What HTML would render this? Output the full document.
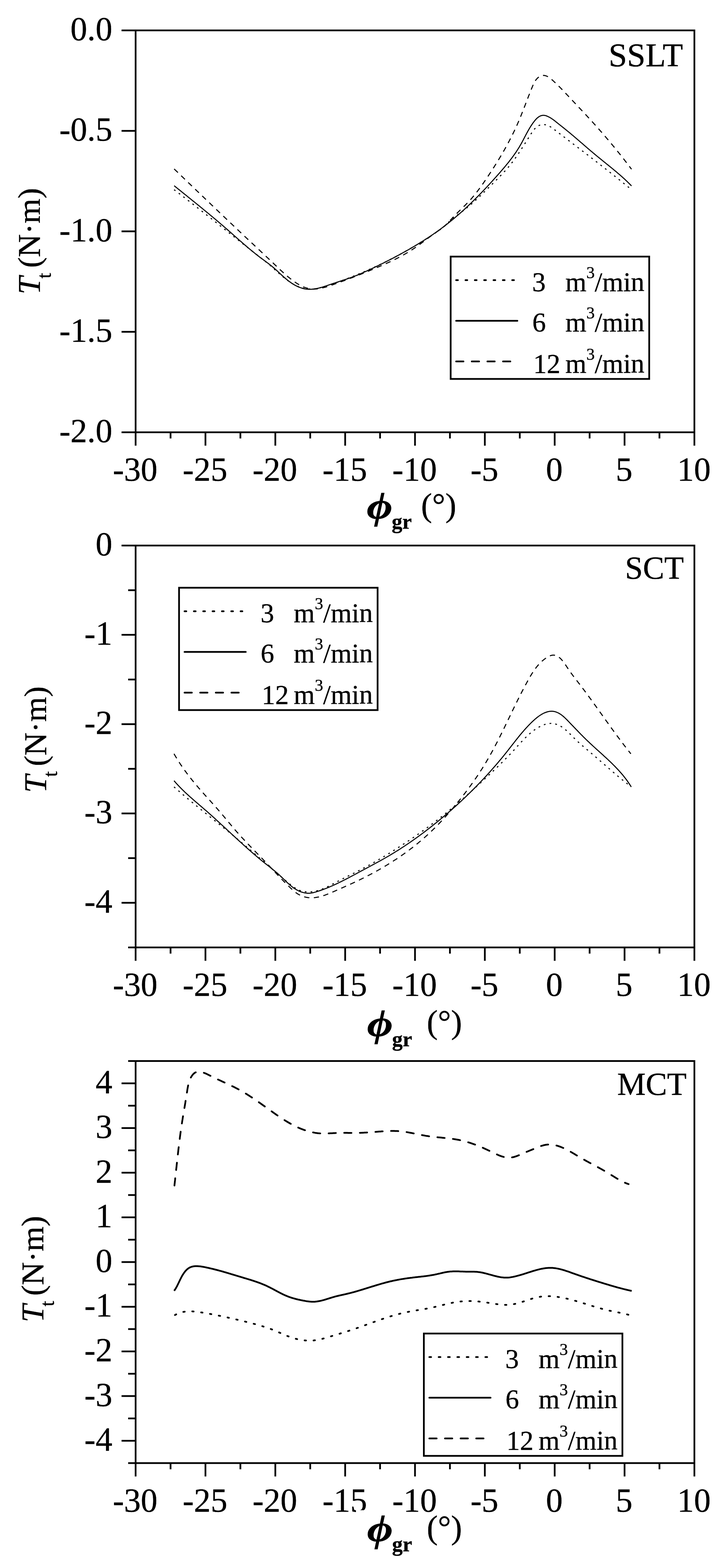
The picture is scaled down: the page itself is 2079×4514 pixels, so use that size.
<!DOCTYPE html><html><head><meta charset="utf-8"><title>Tt vs phi_gr</title>
<style>html,body{margin:0;padding:0;background:#fff;}svg{display:block;}text{font-family:'Liberation Serif', 'Times New Roman', serif;fill:#000;stroke:#000;stroke-width:0.6px;}</style></head><body>
<svg width="2079" height="4514" viewBox="0 0 2079 4514">
<rect x="0" y="0" width="2079" height="4514" fill="#fff"/>
<g><rect x="390.5" y="87.5" width="1609.0" height="1157.0" fill="none" stroke="#000" stroke-width="5"/><line x1="350.0" y1="87.5" x2="390.5" y2="87.5" stroke="#000" stroke-width="5"/><text x="323.4" y="116.0" font-size="96.5" text-anchor="end">0.0</text><line x1="350.0" y1="376.8" x2="390.5" y2="376.8" stroke="#000" stroke-width="5"/><text x="323.4" y="405.2" font-size="96.5" text-anchor="end">-0.5</text><line x1="350.0" y1="666.0" x2="390.5" y2="666.0" stroke="#000" stroke-width="5"/><text x="323.4" y="694.5" font-size="96.5" text-anchor="end">-1.0</text><line x1="350.0" y1="955.2" x2="390.5" y2="955.2" stroke="#000" stroke-width="5"/><text x="323.4" y="983.8" font-size="96.5" text-anchor="end">-1.5</text><line x1="350.0" y1="1244.5" x2="390.5" y2="1244.5" stroke="#000" stroke-width="5"/><text x="323.4" y="1273.0" font-size="96.5" text-anchor="end">-2.0</text><line x1="390.5" y1="1244.5" x2="390.5" y2="1283.0" stroke="#000" stroke-width="5"/><text x="389.3" y="1384.0" font-size="96.5" text-anchor="middle">-30</text><line x1="491.1" y1="1244.5" x2="491.1" y2="1262.3" stroke="#000" stroke-width="5"/><line x1="591.6" y1="1244.5" x2="591.6" y2="1283.0" stroke="#000" stroke-width="5"/><text x="590.4" y="1384.0" font-size="96.5" text-anchor="middle">-25</text><line x1="692.2" y1="1244.5" x2="692.2" y2="1262.3" stroke="#000" stroke-width="5"/><line x1="792.8" y1="1244.5" x2="792.8" y2="1283.0" stroke="#000" stroke-width="5"/><text x="791.5" y="1384.0" font-size="96.5" text-anchor="middle">-20</text><line x1="893.3" y1="1244.5" x2="893.3" y2="1262.3" stroke="#000" stroke-width="5"/><line x1="993.9" y1="1244.5" x2="993.9" y2="1283.0" stroke="#000" stroke-width="5"/><text x="992.7" y="1384.0" font-size="96.5" text-anchor="middle">-15</text><line x1="1094.4" y1="1244.5" x2="1094.4" y2="1262.3" stroke="#000" stroke-width="5"/><line x1="1195.0" y1="1244.5" x2="1195.0" y2="1283.0" stroke="#000" stroke-width="5"/><text x="1193.8" y="1384.0" font-size="96.5" text-anchor="middle">-10</text><line x1="1295.6" y1="1244.5" x2="1295.6" y2="1262.3" stroke="#000" stroke-width="5"/><line x1="1396.1" y1="1244.5" x2="1396.1" y2="1283.0" stroke="#000" stroke-width="5"/><text x="1394.9" y="1384.0" font-size="96.5" text-anchor="middle">-5</text><line x1="1496.7" y1="1244.5" x2="1496.7" y2="1262.3" stroke="#000" stroke-width="5"/><line x1="1597.2" y1="1244.5" x2="1597.2" y2="1283.0" stroke="#000" stroke-width="5"/><text x="1596.0" y="1384.0" font-size="96.5" text-anchor="middle">0</text><line x1="1697.8" y1="1244.5" x2="1697.8" y2="1262.3" stroke="#000" stroke-width="5"/><line x1="1798.4" y1="1244.5" x2="1798.4" y2="1283.0" stroke="#000" stroke-width="5"/><text x="1797.2" y="1384.0" font-size="96.5" text-anchor="middle">5</text><line x1="1898.9" y1="1244.5" x2="1898.9" y2="1262.3" stroke="#000" stroke-width="5"/><line x1="1999.5" y1="1244.5" x2="1999.5" y2="1283.0" stroke="#000" stroke-width="5"/><text x="1998.3" y="1384.0" font-size="96.5" text-anchor="middle">10</text><text x="1966.6" y="190.6" font-size="95.5" text-anchor="end">SSLT</text><text transform="translate(1056.0,1492.5) scale(1.200,1)" x="0" y="0" font-size="107.0" font-weight="bold" font-style="italic">&#x3D5;</text><text x="1128.0" y="1521.6" font-size="61.0" font-weight="bold">gr</text><text x="1212.5" y="1485.8" font-size="95.0">(&#176;)</text><g transform="translate(114.8,847.7) rotate(-90)"><text x="0" y="0" font-size="92.0"><tspan font-style="italic">T</tspan><tspan font-size="58.0" dy="30.7" dx="-5.2">t</tspan><tspan dy="-30.7" dx="14.6">(N&#183;m)</tspan></text></g><rect x="1297.7" y="738.7" width="571.7" height="352.2" fill="#fff" stroke="#000" stroke-width="5.0"/><line x1="1313.5" y1="806.5" x2="1480.0" y2="806.5" stroke="#000" stroke-width="5.0" stroke-dasharray="5 21.9" stroke-linecap="round"/><text x="1532.3" y="837.8" font-size="78.0">3</text><text x="1627.9" y="837.8" font-size="78.0">m<tspan font-size="48.0" dy="-37.0">3</tspan><tspan dy="37.0">/min</tspan></text><line x1="1313.5" y1="923.4" x2="1489.7" y2="923.4" stroke="#000" stroke-width="5.0" stroke-linecap="round"/><text x="1532.7" y="953.8" font-size="78.0">6</text><text x="1627.9" y="953.8" font-size="78.0">m<tspan font-size="48.0" dy="-37.0">3</tspan><tspan dy="37.0">/min</tspan></text><line x1="1313.5" y1="1040.6" x2="1469.5" y2="1040.6" stroke="#000" stroke-width="5.0" stroke-dasharray="21 24" stroke-linecap="round"/><text x="1535.5" y="1073.1" font-size="78.0">12</text><text x="1627.9" y="1073.1" font-size="78.0">m<tspan font-size="48.0" dy="-37.0">3</tspan><tspan dy="37.0">/min</tspan></text><path d="M501.3,546.1 L503.7,547.9 L506.1,549.7 L508.5,551.5 L510.9,553.3 L513.3,555.2 L515.7,557.0 L518.1,558.8 L520.5,560.7 L522.8,562.5 L525.2,564.3 L527.6,566.2 L530.0,568.0 L532.4,569.8 L534.8,571.7 L537.2,573.5 L539.5,575.3 L541.9,577.2 L544.3,579.0 L546.7,580.9 L549.0,582.7 L551.4,584.6 L553.8,586.4 L556.2,588.3 L558.5,590.1 L560.9,592.0 L563.3,593.8 L565.6,595.7 L568.0,597.5 L570.4,599.4 L572.7,601.2 L575.1,603.1 L577.5,605.0 L579.8,606.8 L582.2,608.7 L584.5,610.5 L586.9,612.4 L589.3,614.3 L591.6,616.1 L594.0,618.0 L596.3,619.9 L598.7,621.7 L601.0,623.6 L603.4,625.5 L605.8,627.3 L608.1,629.2 L610.5,631.1 L612.8,632.9 L615.2,634.8 L617.5,636.7 L619.9,638.5 L622.2,640.4 L624.6,642.3 L626.9,644.2 L629.3,646.0 L631.6,647.9 L634.0,649.8 L636.3,651.6 L638.7,653.5 L641.0,655.4 L643.4,657.3 L645.7,659.1 L648.1,661.0 L650.4,662.9 L652.8,664.8 L655.2,666.6 L657.5,668.5 L659.9,670.4 L662.2,672.3 L664.6,674.1 L666.9,676.0 L669.3,677.9 L671.6,679.7 L674.0,681.6 L676.3,683.5 L678.7,685.4 L681.0,687.2 L683.4,689.1 L685.7,691.0 L688.1,692.8 L690.5,694.7 L692.8,696.6 L695.2,698.5 L697.5,700.3 L699.9,702.2 L702.3,704.1 L704.6,705.9 L707.0,707.8 L709.3,709.7 L711.7,711.5 L714.1,713.4 L716.4,715.2 L718.8,717.1 L721.2,719.0 L723.5,720.8 L725.9,722.7 L728.3,724.5 L730.7,726.4 L733.0,728.3 L735.4,730.1 L737.8,732.0 L740.2,733.8 L742.5,735.7 L744.9,737.5 L747.3,739.4 L749.7,741.2 L752.0,743.1 L754.4,745.0 L756.8,746.8 L759.1,748.7 L761.5,750.6 L763.8,752.4 L766.2,754.3 L768.5,756.2 L770.8,758.1 L773.1,760.1 L775.4,762.0 L777.6,763.9 L779.9,765.9 L782.1,767.8 L784.3,769.8 L786.5,771.8 L788.7,773.8 L790.9,775.8 L793.1,777.8 L795.3,779.7 L797.5,781.7 L799.7,783.7 L801.9,785.7 L804.1,787.7 L806.4,789.7 L808.6,791.6 L810.9,793.6 L813.2,795.5 L815.5,797.5 L817.8,799.4 L820.2,801.3 L822.6,803.2 L825.1,805.0 L827.6,806.8 L830.1,808.7 L832.6,810.4 L835.2,812.2 L837.9,813.9 L840.5,815.6 L843.2,817.2 L845.9,818.7 L848.7,820.2 L851.5,821.7 L854.3,823.0 L857.1,824.3 L859.9,825.5 L862.8,826.6 L865.6,827.6 L868.5,828.6 L871.4,829.4 L874.2,830.1 L877.1,830.7 L880.0,831.2 L882.9,831.5 L885.8,831.8 L888.7,832.0 L891.6,832.1 L894.5,832.1 L897.4,832.0 L900.3,831.8 L903.2,831.6 L906.1,831.3 L909.0,830.9 L911.9,830.4 L914.8,829.9 L917.7,829.3 L920.6,828.7 L923.5,828.0 L926.4,827.3 L929.4,826.5 L932.3,825.7 L935.2,824.8 L938.0,823.9 L940.9,823.0 L943.8,822.1 L946.7,821.1 L949.6,820.2 L952.5,819.2 L955.4,818.2 L958.3,817.2 L961.1,816.2 L964.0,815.2 L966.9,814.2 L969.7,813.2 L972.6,812.1 L975.4,811.1 L978.3,810.1 L981.1,809.0 L984.0,808.0 L986.8,806.9 L989.7,805.9 L992.5,804.8 L995.3,803.7 L998.1,802.7 L1001.0,801.6 L1003.8,800.5 L1006.6,799.4 L1009.4,798.3 L1012.2,797.2 L1015.0,796.1 L1017.8,795.0 L1020.6,793.8 L1023.4,792.7 L1026.2,791.6 L1029.0,790.4 L1031.8,789.3 L1034.6,788.1 L1037.3,787.0 L1040.1,785.8 L1042.9,784.6 L1045.7,783.5 L1048.4,782.3 L1051.2,781.1 L1053.9,779.9 L1056.7,778.7 L1059.4,777.5 L1062.2,776.3 L1064.9,775.0 L1067.7,773.8 L1070.4,772.6 L1073.1,771.3 L1075.9,770.1 L1078.6,768.8 L1081.3,767.6 L1084.0,766.3 L1086.7,765.0 L1089.5,763.8 L1092.2,762.5 L1094.9,761.2 L1097.6,759.9 L1100.3,758.6 L1103.0,757.3 L1105.7,756.0 L1108.4,754.7 L1111.0,753.3 L1113.7,752.0 L1116.4,750.7 L1119.1,749.3 L1121.8,748.0 L1124.4,746.6 L1127.1,745.2 L1129.8,743.9 L1132.4,742.5 L1135.1,741.1 L1137.7,739.7 L1140.4,738.3 L1143.0,736.9 L1145.7,735.5 L1148.3,734.1 L1151.0,732.7 L1153.6,731.2 L1156.2,729.8 L1158.9,728.4 L1161.5,726.9 L1164.1,725.5 L1166.7,724.0 L1169.3,722.5 L1172.0,721.1 L1174.6,719.6 L1177.2,718.1 L1179.8,716.6 L1182.4,715.1 L1185.0,713.6 L1187.6,712.1 L1190.2,710.6 L1192.8,709.0 L1195.4,707.5 L1197.9,706.0 L1200.5,704.4 L1203.1,702.9 L1205.7,701.3 L1208.2,699.7 L1210.8,698.2 L1213.4,696.6 L1215.9,695.0 L1218.5,693.4 L1221.1,691.8 L1223.6,690.2 L1226.2,688.6 L1228.7,687.0 L1231.3,685.3 L1233.8,683.7 L1236.3,682.1 L1238.9,680.4 L1241.4,678.8 L1243.9,677.1 L1246.5,675.4 L1249.0,673.7 L1251.5,672.1 L1254.0,670.4 L1256.6,668.7 L1259.1,667.0 L1261.6,665.2 L1264.0,663.5 L1266.5,661.7 L1268.9,659.9 L1271.3,658.1 L1273.7,656.3 L1276.0,654.4 L1278.3,652.5 L1280.6,650.5 L1282.8,648.5 L1284.9,646.4 L1287.0,644.3 L1289.2,642.2 L1291.3,640.1 L1293.4,638.0 L1295.5,636.0 L1297.7,633.9 L1299.9,631.9 L1302.1,629.9 L1304.4,628.0 L1306.8,626.2 L1309.2,624.3 L1311.6,622.6 L1314.1,620.8 L1316.6,619.1 L1319.1,617.3 L1321.6,615.6 L1324.1,613.9 L1326.5,612.1 L1329.0,610.3 L1331.4,608.6 L1333.8,606.7 L1336.2,604.9 L1338.6,603.1 L1341.0,601.2 L1343.3,599.3 L1345.6,597.4 L1347.9,595.5 L1350.2,593.6 L1352.5,591.7 L1354.8,589.7 L1357.0,587.7 L1359.3,585.8 L1361.5,583.8 L1363.7,581.8 L1366.0,579.7 L1368.2,577.7 L1370.3,575.7 L1372.5,573.6 L1374.7,571.6 L1376.9,569.5 L1379.1,567.5 L1381.2,565.4 L1383.4,563.3 L1385.5,561.2 L1387.7,559.1 L1389.8,557.0 L1392.0,554.9 L1394.1,552.8 L1396.3,550.7 L1398.4,548.6 L1400.6,546.5 L1402.7,544.4 L1404.9,542.3 L1407.1,540.1 L1409.2,538.0 L1411.4,535.9 L1413.5,533.8 L1415.7,531.7 L1417.9,529.5 L1420.0,527.4 L1422.2,525.3 L1424.3,523.2 L1426.5,521.0 L1428.6,518.9 L1430.7,516.7 L1432.9,514.6 L1435.0,512.4 L1437.1,510.2 L1439.2,508.1 L1441.3,505.9 L1443.4,503.7 L1445.5,501.5 L1447.5,499.3 L1449.6,497.1 L1451.6,494.9 L1453.7,492.7 L1455.7,490.4 L1457.7,488.2 L1459.7,485.9 L1461.6,483.7 L1463.6,481.4 L1465.5,479.1 L1467.4,476.8 L1469.3,474.5 L1471.2,472.2 L1473.0,469.8 L1474.9,467.5 L1476.7,465.1 L1478.5,462.7 L1480.2,460.3 L1482.0,457.9 L1483.7,455.5 L1485.4,453.1 L1487.1,450.7 L1488.8,448.2 L1490.5,445.8 L1492.2,443.3 L1493.8,440.8 L1495.5,438.3 L1497.1,435.8 L1498.8,433.3 L1500.4,430.8 L1502.0,428.3 L1503.6,425.8 L1505.2,423.2 L1506.8,420.7 L1508.4,418.1 L1510.1,415.6 L1511.7,413.0 L1513.3,410.4 L1514.9,407.8 L1516.5,405.2 L1518.1,402.7 L1519.8,400.1 L1521.4,397.5 L1523.0,394.8 L1524.7,392.2 L1526.3,389.6 L1528.0,387.0 L1529.7,384.4 L1531.4,381.8 L1533.2,379.2 L1534.9,376.7 L1536.8,374.3 L1538.7,372.0 L1540.7,369.8 L1542.8,367.7 L1545.0,365.8 L1547.2,364.0 L1549.7,362.5 L1552.2,361.2 L1554.9,360.1 L1557.7,359.3 L1560.5,358.8 L1563.5,358.5 L1566.4,358.6 L1569.3,358.9 L1572.3,359.5 L1575.2,360.4 L1578.0,361.5 L1580.8,362.8 L1583.5,364.2 L1586.1,365.8 L1588.7,367.5 L1591.2,369.3 L1593.7,371.1 L1596.2,373.0 L1598.6,374.8 L1601.0,376.6 L1603.4,378.5 L1605.8,380.3 L1608.2,382.1 L1610.5,384.0 L1612.9,385.8 L1615.3,387.6 L1617.7,389.4 L1620.0,391.2 L1622.4,393.1 L1624.8,394.9 L1627.2,396.7 L1629.6,398.5 L1632.0,400.3 L1634.3,402.1 L1636.7,404.0 L1639.1,405.8 L1641.5,407.6 L1643.9,409.4 L1646.3,411.2 L1648.7,413.0 L1651.1,414.9 L1653.4,416.7 L1655.8,418.5 L1658.2,420.3 L1660.6,422.1 L1663.0,423.9 L1665.4,425.8 L1667.8,427.6 L1670.2,429.4 L1672.6,431.2 L1675.0,433.1 L1677.4,434.9 L1679.7,436.7 L1682.1,438.5 L1684.5,440.4 L1686.9,442.2 L1689.3,444.0 L1691.7,445.8 L1694.1,447.7 L1696.4,449.5 L1698.8,451.3 L1701.2,453.2 L1703.6,455.0 L1706.0,456.8 L1708.4,458.7 L1710.7,460.5 L1713.1,462.4 L1715.5,464.2 L1717.9,466.1 L1720.2,467.9 L1722.6,469.8 L1725.0,471.6 L1727.4,473.4 L1729.7,475.3 L1732.1,477.2 L1734.5,479.0 L1736.8,480.9 L1739.2,482.7 L1741.6,484.6 L1744.0,486.4 L1746.3,488.3 L1748.7,490.1 L1751.0,492.0 L1753.4,493.9 L1755.8,495.7 L1758.1,497.6 L1760.5,499.5 L1762.9,501.3 L1765.2,503.2 L1767.6,505.1 L1769.9,506.9 L1772.3,508.8 L1774.6,510.7 L1777.0,512.6 L1779.3,514.4 L1781.7,516.3 L1784.0,518.2 L1786.4,520.1 L1788.7,521.9 L1791.1,523.8 L1793.4,525.7 L1795.8,527.6 L1798.1,529.5 L1800.5,531.4 L1802.8,533.2 L1805.1,535.1 L1807.5,537.0 L1809.8,538.9 L1812.2,540.8" fill="none" stroke="#000" stroke-width="3" stroke-linejoin="round" stroke-dasharray="5 11.7"/><path d="M501.6,534.7 L503.9,536.6 L506.2,538.5 L508.6,540.4 L510.9,542.3 L513.3,544.2 L515.6,546.0 L517.9,547.9 L520.3,549.8 L522.6,551.7 L524.9,553.6 L527.3,555.5 L529.6,557.4 L532.0,559.3 L534.3,561.1 L536.7,563.0 L539.0,564.9 L541.3,566.8 L543.7,568.7 L546.0,570.6 L548.4,572.5 L550.7,574.4 L553.0,576.3 L555.4,578.2 L557.7,580.0 L560.1,581.9 L562.4,583.8 L564.7,585.7 L567.1,587.6 L569.4,589.5 L571.7,591.4 L574.1,593.3 L576.4,595.2 L578.7,597.1 L581.1,599.0 L583.4,600.9 L585.7,602.8 L588.1,604.8 L590.4,606.7 L592.7,608.6 L595.0,610.5 L597.4,612.4 L599.7,614.3 L602.0,616.2 L604.3,618.2 L606.6,620.1 L608.9,622.0 L611.3,623.9 L613.6,625.9 L615.9,627.8 L618.2,629.7 L620.5,631.7 L622.8,633.6 L625.1,635.6 L627.4,637.5 L629.7,639.4 L632.0,641.4 L634.2,643.3 L636.5,645.3 L638.8,647.2 L641.1,649.2 L643.4,651.2 L645.6,653.1 L647.9,655.1 L650.2,657.1 L652.4,659.0 L654.7,661.0 L657.0,663.0 L659.2,665.0 L661.5,667.0 L663.7,668.9 L666.0,670.9 L668.2,672.9 L670.5,674.9 L672.7,676.9 L675.0,678.9 L677.2,680.9 L679.5,682.9 L681.7,684.8 L684.0,686.8 L686.2,688.8 L688.5,690.8 L690.7,692.8 L693.0,694.7 L695.3,696.7 L697.5,698.7 L699.8,700.7 L702.1,702.6 L704.3,704.6 L706.6,706.5 L708.9,708.5 L711.2,710.4 L713.5,712.4 L715.8,714.3 L718.1,716.3 L720.4,718.2 L722.7,720.1 L725.0,722.0 L727.3,723.9 L729.7,725.8 L732.0,727.7 L734.4,729.6 L736.7,731.5 L739.1,733.3 L741.5,735.2 L743.8,737.0 L746.2,738.9 L748.6,740.7 L751.0,742.5 L753.5,744.3 L755.9,746.1 L758.3,747.9 L760.8,749.7 L763.2,751.5 L765.7,753.3 L768.1,755.1 L770.5,756.9 L772.9,758.7 L775.3,760.6 L777.7,762.4 L780.1,764.3 L782.4,766.1 L784.7,768.1 L787.0,770.0 L789.3,772.0 L791.5,773.9 L793.8,775.9 L796.0,777.9 L798.2,779.9 L800.4,782.0 L802.6,784.0 L804.8,786.0 L806.9,788.0 L809.1,790.1 L811.3,792.1 L813.5,794.1 L815.8,796.1 L818.0,798.1 L820.2,800.0 L822.5,802.0 L824.8,803.9 L827.1,805.8 L829.5,807.6 L831.8,809.5 L834.3,811.3 L836.7,813.0 L839.2,814.7 L841.7,816.4 L844.3,818.0 L846.9,819.6 L849.6,821.1 L852.4,822.6 L855.1,824.0 L858.0,825.3 L860.8,826.5 L863.7,827.7 L866.7,828.7 L869.6,829.7 L872.5,830.5 L875.5,831.2 L878.4,831.8 L881.4,832.2 L884.3,832.5 L887.2,832.7 L890.2,832.8 L893.1,832.8 L896.0,832.7 L898.9,832.5 L901.9,832.2 L904.8,831.9 L907.7,831.4 L910.6,830.9 L913.5,830.3 L916.4,829.7 L919.3,829.0 L922.3,828.2 L925.2,827.4 L928.1,826.6 L931.0,825.7 L933.8,824.8 L936.7,823.8 L939.6,822.9 L942.5,821.9 L945.4,820.9 L948.3,819.9 L951.2,818.9 L954.1,818.0 L956.9,817.0 L959.8,816.0 L962.7,815.1 L965.5,814.1 L968.4,813.2 L971.3,812.3 L974.1,811.3 L977.0,810.4 L979.8,809.5 L982.7,808.5 L985.5,807.6 L988.4,806.7 L991.2,805.7 L994.1,804.8 L996.9,803.8 L999.7,802.9 L1002.5,801.9 L1005.4,800.9 L1008.2,799.9 L1011.0,798.9 L1013.8,797.9 L1016.6,796.8 L1019.4,795.8 L1022.2,794.7 L1025.0,793.6 L1027.8,792.5 L1030.6,791.3 L1033.3,790.2 L1036.1,789.0 L1038.9,787.8 L1041.6,786.6 L1044.4,785.4 L1047.2,784.2 L1049.9,782.9 L1052.7,781.7 L1055.4,780.5 L1058.1,779.2 L1060.9,778.0 L1063.6,776.7 L1066.3,775.4 L1069.1,774.2 L1071.8,772.9 L1074.5,771.6 L1077.2,770.3 L1079.9,769.0 L1082.6,767.7 L1085.3,766.4 L1088.0,765.1 L1090.7,763.8 L1093.4,762.5 L1096.1,761.2 L1098.8,759.8 L1101.5,758.5 L1104.2,757.2 L1106.8,755.8 L1109.5,754.5 L1112.2,753.1 L1114.9,751.7 L1117.5,750.4 L1120.2,749.0 L1122.9,747.6 L1125.6,746.3 L1128.2,744.9 L1130.9,743.5 L1133.5,742.1 L1136.2,740.7 L1138.9,739.3 L1141.5,737.9 L1144.2,736.4 L1146.8,735.0 L1149.5,733.6 L1152.1,732.1 L1154.8,730.7 L1157.4,729.3 L1160.0,727.8 L1162.7,726.3 L1165.3,724.9 L1167.9,723.4 L1170.6,721.9 L1173.2,720.5 L1175.8,719.0 L1178.4,717.5 L1181.0,716.0 L1183.6,714.5 L1186.3,712.9 L1188.9,711.4 L1191.5,709.9 L1194.0,708.3 L1196.6,706.8 L1199.2,705.3 L1201.8,703.7 L1204.4,702.1 L1206.9,700.6 L1209.5,699.0 L1212.1,697.4 L1214.6,695.8 L1217.2,694.2 L1219.7,692.6 L1222.3,691.0 L1224.8,689.3 L1227.3,687.7 L1229.8,686.1 L1232.4,684.4 L1234.9,682.8 L1237.4,681.1 L1239.9,679.4 L1242.4,677.7 L1244.9,676.0 L1247.4,674.4 L1249.8,672.6 L1252.3,670.9 L1254.8,669.2 L1257.2,667.5 L1259.7,665.7 L1262.1,664.0 L1264.5,662.2 L1267.0,660.5 L1269.4,658.7 L1271.8,656.9 L1274.2,655.1 L1276.6,653.3 L1279.0,651.5 L1281.4,649.6 L1283.8,647.8 L1286.1,646.0 L1288.5,644.1 L1290.8,642.3 L1293.2,640.4 L1295.5,638.5 L1297.9,636.6 L1300.2,634.7 L1302.5,632.8 L1304.8,630.9 L1307.1,629.0 L1309.4,627.1 L1311.7,625.1 L1314.0,623.2 L1316.3,621.2 L1318.5,619.3 L1320.8,617.3 L1323.1,615.3 L1325.3,613.3 L1327.6,611.3 L1329.8,609.3 L1332.0,607.3 L1334.3,605.3 L1336.5,603.3 L1338.7,601.3 L1340.9,599.2 L1343.1,597.2 L1345.3,595.1 L1347.5,593.1 L1349.7,591.0 L1351.8,588.9 L1354.0,586.9 L1356.2,584.8 L1358.3,582.7 L1360.5,580.6 L1362.6,578.5 L1364.8,576.4 L1366.9,574.3 L1369.1,572.1 L1371.2,570.0 L1373.3,567.9 L1375.4,565.8 L1377.6,563.6 L1379.7,561.5 L1381.8,559.3 L1383.9,557.1 L1386.0,555.0 L1388.1,552.8 L1390.1,550.6 L1392.2,548.5 L1394.3,546.3 L1396.4,544.1 L1398.4,541.9 L1400.5,539.7 L1402.6,537.5 L1404.6,535.3 L1406.7,533.1 L1408.7,530.9 L1410.8,528.6 L1412.8,526.4 L1414.8,524.2 L1416.9,522.0 L1418.9,519.7 L1420.9,517.5 L1422.9,515.2 L1424.9,513.0 L1427.0,510.8 L1429.0,508.5 L1431.0,506.2 L1433.0,504.0 L1435.0,501.7 L1437.0,499.5 L1439.0,497.2 L1441.0,494.9 L1442.9,492.6 L1444.9,490.4 L1446.9,488.1 L1448.8,485.8 L1450.8,483.5 L1452.7,481.2 L1454.7,478.9 L1456.6,476.6 L1458.5,474.2 L1460.4,471.9 L1462.3,469.6 L1464.2,467.2 L1466.1,464.9 L1467.9,462.5 L1469.7,460.1 L1471.6,457.7 L1473.4,455.3 L1475.2,452.9 L1477.0,450.5 L1478.7,448.1 L1480.5,445.7 L1482.2,443.2 L1483.9,440.8 L1485.6,438.3 L1487.3,435.8 L1488.9,433.3 L1490.5,430.8 L1492.1,428.3 L1493.7,425.7 L1495.3,423.2 L1496.8,420.6 L1498.3,418.0 L1499.8,415.4 L1501.3,412.8 L1502.7,410.2 L1504.1,407.6 L1505.5,404.9 L1507.0,402.3 L1508.3,399.6 L1509.7,396.9 L1511.1,394.3 L1512.5,391.6 L1513.9,388.9 L1515.3,386.3 L1516.7,383.6 L1518.2,381.0 L1519.6,378.3 L1521.1,375.7 L1522.6,373.0 L1524.1,370.4 L1525.7,367.8 L1527.3,365.2 L1528.9,362.6 L1530.6,360.1 L1532.3,357.6 L1534.0,355.0 L1535.8,352.6 L1537.7,350.1 L1539.6,347.7 L1541.6,345.3 L1543.6,343.1 L1545.7,340.9 L1547.9,339.0 L1550.2,337.2 L1552.5,335.6 L1554.9,334.3 L1557.5,333.2 L1560.1,332.4 L1562.8,332.0 L1565.6,331.9 L1568.5,332.2 L1571.5,332.9 L1574.5,334.0 L1577.6,335.3 L1580.6,336.8 L1583.5,338.4 L1586.3,340.0 L1588.9,341.7 L1591.4,343.4 L1593.9,345.2 L1596.3,347.0 L1598.6,348.8 L1600.9,350.7 L1603.2,352.5 L1605.5,354.4 L1607.8,356.2 L1610.1,358.1 L1612.4,359.9 L1614.8,361.8 L1617.1,363.6 L1619.5,365.5 L1621.8,367.3 L1624.2,369.2 L1626.5,371.1 L1628.9,373.0 L1631.2,374.9 L1633.5,376.8 L1635.8,378.7 L1638.2,380.6 L1640.5,382.5 L1642.8,384.4 L1645.1,386.3 L1647.4,388.3 L1649.7,390.2 L1652.0,392.2 L1654.3,394.1 L1656.6,396.1 L1658.9,398.0 L1661.1,400.0 L1663.4,401.9 L1665.7,403.9 L1668.0,405.8 L1670.3,407.8 L1672.5,409.8 L1674.8,411.7 L1677.1,413.7 L1679.4,415.7 L1681.6,417.6 L1683.9,419.6 L1686.2,421.6 L1688.5,423.5 L1690.7,425.5 L1693.0,427.5 L1695.3,429.4 L1697.6,431.4 L1699.9,433.3 L1702.2,435.3 L1704.5,437.2 L1706.8,439.2 L1709.1,441.1 L1711.4,443.0 L1713.7,445.0 L1716.0,446.9 L1718.3,448.8 L1720.6,450.7 L1723.0,452.6 L1725.3,454.5 L1727.6,456.4 L1730.0,458.3 L1732.3,460.2 L1734.6,462.1 L1737.0,464.0 L1739.3,465.9 L1741.7,467.8 L1744.0,469.7 L1746.3,471.6 L1748.7,473.5 L1751.0,475.3 L1753.4,477.2 L1755.7,479.1 L1758.0,481.0 L1760.4,482.9 L1762.7,484.8 L1765.0,486.7 L1767.3,488.7 L1769.6,490.6 L1772.0,492.5 L1774.3,494.4 L1776.6,496.4 L1778.8,498.3 L1781.1,500.3 L1783.4,502.2 L1785.7,504.2 L1787.9,506.2 L1790.2,508.2 L1792.4,510.2 L1794.6,512.2 L1796.9,514.2 L1799.1,516.2 L1801.3,518.3 L1803.5,520.3 L1805.6,522.4 L1807.8,524.5 L1809.9,526.6 L1812.1,528.7 L1814.2,530.9 L1816.3,533.0 L1818.4,535.2" fill="none" stroke="#000" stroke-width="3" stroke-linejoin="round"/><path d="M501.5,486.4 L503.7,488.5 L505.8,490.5 L508.0,492.6 L510.2,494.7 L512.3,496.8 L514.5,498.9 L516.6,501.0 L518.8,503.0 L521.0,505.1 L523.1,507.2 L525.3,509.3 L527.5,511.4 L529.6,513.5 L531.8,515.6 L534.0,517.7 L536.1,519.7 L538.3,521.8 L540.5,523.9 L542.6,526.0 L544.8,528.1 L547.0,530.2 L549.2,532.3 L551.3,534.3 L553.5,536.4 L555.7,538.5 L557.8,540.6 L560.0,542.7 L562.2,544.8 L564.4,546.9 L566.5,549.0 L568.7,551.0 L570.9,553.1 L573.1,555.2 L575.2,557.3 L577.4,559.4 L579.6,561.5 L581.7,563.5 L583.9,565.6 L586.1,567.7 L588.3,569.8 L590.4,571.9 L592.6,574.0 L594.8,576.0 L597.0,578.1 L599.1,580.2 L601.3,582.3 L603.5,584.3 L605.7,586.4 L607.8,588.5 L610.0,590.6 L612.2,592.6 L614.3,594.7 L616.5,596.8 L618.7,598.9 L620.8,600.9 L623.0,603.0 L625.2,605.1 L627.4,607.2 L629.5,609.2 L631.7,611.3 L633.9,613.4 L636.0,615.4 L638.2,617.5 L640.4,619.6 L642.6,621.6 L644.7,623.7 L646.9,625.8 L649.1,627.8 L651.2,629.9 L653.4,632.0 L655.6,634.0 L657.8,636.1 L659.9,638.2 L662.1,640.2 L664.3,642.3 L666.5,644.4 L668.7,646.4 L670.8,648.5 L673.0,650.6 L675.2,652.6 L677.4,654.7 L679.6,656.7 L681.7,658.8 L683.9,660.9 L686.1,662.9 L688.3,665.0 L690.5,667.1 L692.7,669.1 L694.9,671.2 L697.1,673.3 L699.3,675.3 L701.4,677.4 L703.6,679.5 L705.8,681.5 L708.0,683.6 L710.2,685.6 L712.4,687.7 L714.6,689.8 L716.8,691.8 L719.0,693.9 L721.2,696.0 L723.4,698.0 L725.6,700.1 L727.9,702.2 L730.1,704.2 L732.3,706.3 L734.5,708.4 L736.7,710.4 L738.9,712.5 L741.1,714.6 L743.3,716.6 L745.5,718.7 L747.7,720.7 L749.9,722.8 L752.1,724.9 L754.3,726.9 L756.4,729.0 L758.6,731.0 L760.8,733.1 L763.0,735.2 L765.2,737.2 L767.4,739.3 L769.6,741.3 L771.8,743.4 L773.9,745.4 L776.1,747.5 L778.3,749.5 L780.4,751.6 L782.6,753.7 L784.8,755.7 L786.9,757.7 L789.1,759.8 L791.2,761.8 L793.4,763.9 L795.5,765.9 L797.7,768.0 L799.8,770.0 L802.0,772.0 L804.1,774.1 L806.3,776.1 L808.4,778.1 L810.6,780.2 L812.8,782.2 L815.0,784.2 L817.2,786.2 L819.4,788.2 L821.7,790.2 L823.9,792.1 L826.2,794.1 L828.5,796.1 L830.9,798.0 L833.3,799.9 L835.7,801.9 L838.1,803.8 L840.5,805.7 L843.0,807.6 L845.6,809.4 L848.1,811.2 L850.7,813.0 L853.3,814.7 L855.9,816.4 L858.5,818.0 L861.2,819.6 L863.9,821.1 L866.6,822.5 L869.4,823.8 L872.1,825.1 L874.9,826.3 L877.7,827.4 L880.5,828.4 L883.3,829.2 L886.1,830.0 L888.9,830.7 L891.8,831.2 L894.7,831.6 L897.5,831.9 L900.4,832.1 L903.3,832.2 L906.2,832.1 L909.1,832.0 L912.0,831.7 L915.0,831.4 L917.9,831.0 L920.8,830.5 L923.7,830.0 L926.7,829.3 L929.6,828.6 L932.5,827.9 L935.5,827.1 L938.4,826.2 L941.3,825.4 L944.3,824.4 L947.2,823.5 L950.1,822.5 L953.0,821.5 L955.9,820.5 L958.8,819.5 L961.7,818.4 L964.6,817.4 L967.5,816.4 L970.4,815.3 L973.3,814.3 L976.2,813.3 L979.0,812.2 L981.9,811.2 L984.7,810.2 L987.6,809.1 L990.4,808.1 L993.2,807.0 L996.1,806.0 L998.9,804.9 L1001.7,803.8 L1004.5,802.8 L1007.3,801.7 L1010.2,800.6 L1013.0,799.6 L1015.8,798.5 L1018.6,797.4 L1021.3,796.3 L1024.1,795.2 L1026.9,794.2 L1029.7,793.1 L1032.5,792.0 L1035.3,790.9 L1038.0,789.8 L1040.8,788.7 L1043.6,787.6 L1046.3,786.4 L1049.1,785.3 L1051.9,784.2 L1054.6,783.1 L1057.4,782.0 L1060.2,780.8 L1062.9,779.7 L1065.7,778.5 L1068.4,777.4 L1071.2,776.2 L1074.0,775.1 L1076.7,773.9 L1079.5,772.8 L1082.2,771.6 L1085.0,770.4 L1087.7,769.2 L1090.5,768.1 L1093.3,766.9 L1096.0,765.7 L1098.8,764.5 L1101.5,763.3 L1104.3,762.1 L1107.0,760.8 L1109.8,759.6 L1112.5,758.4 L1115.3,757.1 L1118.0,755.9 L1120.8,754.6 L1123.5,753.4 L1126.2,752.1 L1128.9,750.8 L1131.7,749.5 L1134.4,748.2 L1137.1,746.8 L1139.8,745.5 L1142.5,744.1 L1145.2,742.8 L1147.8,741.4 L1150.5,740.0 L1153.2,738.6 L1155.8,737.2 L1158.5,735.7 L1161.1,734.3 L1163.7,732.8 L1166.3,731.3 L1168.9,729.8 L1171.5,728.3 L1174.1,726.7 L1176.7,725.2 L1179.2,723.6 L1181.8,722.0 L1184.3,720.4 L1186.8,718.7 L1189.3,717.1 L1191.8,715.4 L1194.3,713.7 L1196.7,712.0 L1199.2,710.3 L1201.6,708.5 L1204.1,706.8 L1206.5,705.0 L1208.9,703.2 L1211.3,701.5 L1213.8,699.7 L1216.2,697.9 L1218.6,696.1 L1221.0,694.3 L1223.4,692.5 L1225.8,690.7 L1228.2,688.9 L1230.6,687.1 L1233.0,685.3 L1235.4,683.5 L1237.8,681.7 L1240.3,679.9 L1242.7,678.1 L1245.1,676.3 L1247.6,674.6 L1250.0,672.8 L1252.5,671.1 L1254.9,669.4 L1257.4,667.7 L1259.9,665.9 L1262.4,664.2 L1264.8,662.5 L1267.3,660.7 L1269.7,659.0 L1272.1,657.2 L1274.4,655.3 L1276.8,653.4 L1279.0,651.5 L1281.3,649.5 L1283.5,647.5 L1285.7,645.4 L1287.8,643.3 L1289.9,641.2 L1292.0,639.0 L1294.1,636.9 L1296.1,634.7 L1298.2,632.5 L1300.2,630.3 L1302.3,628.1 L1304.3,625.8 L1306.4,623.7 L1308.5,621.5 L1310.6,619.3 L1312.7,617.1 L1314.8,615.0 L1317.0,612.9 L1319.1,610.7 L1321.3,608.6 L1323.4,606.5 L1325.6,604.4 L1327.7,602.3 L1329.9,600.2 L1332.0,598.1 L1334.2,596.0 L1336.3,593.9 L1338.5,591.8 L1340.6,589.6 L1342.7,587.5 L1344.8,585.3 L1346.9,583.2 L1349.0,581.0 L1351.0,578.8 L1353.1,576.6 L1355.1,574.4 L1357.1,572.2 L1359.1,569.9 L1361.0,567.6 L1362.9,565.3 L1364.9,563.0 L1366.8,560.7 L1368.6,558.4 L1370.5,556.0 L1372.4,553.7 L1374.2,551.3 L1376.0,548.9 L1377.8,546.5 L1379.6,544.1 L1381.4,541.7 L1383.2,539.3 L1384.9,536.9 L1386.7,534.4 L1388.4,532.0 L1390.2,529.5 L1391.9,527.1 L1393.6,524.6 L1395.3,522.1 L1397.0,519.6 L1398.7,517.1 L1400.4,514.6 L1402.1,512.1 L1403.7,509.6 L1405.4,507.1 L1407.1,504.6 L1408.7,502.1 L1410.4,499.6 L1412.1,497.1 L1413.7,494.6 L1415.4,492.0 L1417.0,489.5 L1418.6,487.0 L1420.3,484.4 L1421.9,481.9 L1423.5,479.4 L1425.1,476.8 L1426.7,474.3 L1428.3,471.7 L1429.9,469.1 L1431.5,466.6 L1433.1,464.0 L1434.6,461.4 L1436.2,458.9 L1437.8,456.3 L1439.3,453.7 L1440.9,451.1 L1442.4,448.5 L1443.9,445.9 L1445.5,443.3 L1447.0,440.7 L1448.5,438.1 L1450.0,435.5 L1451.5,432.9 L1453.0,430.3 L1454.4,427.7 L1455.9,425.0 L1457.4,422.4 L1458.8,419.8 L1460.3,417.1 L1461.7,414.5 L1463.1,411.9 L1464.5,409.2 L1465.9,406.6 L1467.3,403.9 L1468.7,401.2 L1470.1,398.6 L1471.5,395.9 L1472.8,393.2 L1474.2,390.5 L1475.5,387.8 L1476.9,385.2 L1478.2,382.5 L1479.5,379.8 L1480.8,377.1 L1482.1,374.4 L1483.4,371.6 L1484.6,368.9 L1485.9,366.2 L1487.1,363.5 L1488.4,360.8 L1489.6,358.0 L1490.8,355.3 L1492.0,352.5 L1493.2,349.8 L1494.4,347.0 L1495.5,344.3 L1496.7,341.5 L1497.8,338.8 L1499.0,336.0 L1500.1,333.2 L1501.2,330.4 L1502.3,327.7 L1503.4,324.9 L1504.5,322.1 L1505.6,319.3 L1506.7,316.5 L1507.8,313.7 L1508.9,310.9 L1510.0,308.1 L1511.1,305.3 L1512.2,302.5 L1513.2,299.7 L1514.3,296.9 L1515.4,294.1 L1516.5,291.2 L1517.6,288.4 L1518.7,285.6 L1519.8,282.8 L1520.8,280.0 L1521.9,277.1 L1523.0,274.3 L1524.2,271.5 L1525.3,268.6 L1526.4,265.8 L1527.5,263.0 L1528.7,260.1 L1529.8,257.3 L1531.0,254.5 L1532.1,251.6 L1533.3,248.8 L1534.5,246.0 L1535.7,243.2 L1537.0,240.4 L1538.4,237.7 L1539.8,235.1 L1541.4,232.6 L1543.1,230.1 L1544.9,227.9 L1546.9,225.7 L1549.0,223.7 L1551.4,221.9 L1553.9,220.4 L1556.6,219.0 L1559.3,218.0 L1562.1,217.4 L1564.9,217.1 L1567.6,217.3 L1570.3,217.8 L1573.0,218.7 L1575.6,219.8 L1578.2,221.2 L1580.8,222.8 L1583.3,224.6 L1585.8,226.5 L1588.3,228.6 L1590.7,230.7 L1593.1,232.8 L1595.4,235.0 L1597.7,237.1 L1600.0,239.3 L1602.3,241.4 L1604.5,243.6 L1606.7,245.7 L1608.8,247.9 L1611.0,250.0 L1613.1,252.2 L1615.2,254.3 L1617.3,256.5 L1619.3,258.6 L1621.4,260.8 L1623.5,262.9 L1625.5,265.1 L1627.5,267.2 L1629.5,269.4 L1631.6,271.5 L1633.6,273.7 L1635.6,275.8 L1637.6,278.0 L1639.7,280.2 L1641.7,282.3 L1643.7,284.5 L1645.8,286.7 L1647.8,288.8 L1649.9,291.0 L1651.9,293.2 L1654.0,295.3 L1656.0,297.5 L1658.1,299.7 L1660.1,301.9 L1662.2,304.1 L1664.3,306.3 L1666.3,308.5 L1668.4,310.7 L1670.5,312.9 L1672.5,315.1 L1674.6,317.3 L1676.7,319.5 L1678.7,321.7 L1680.8,323.9 L1682.9,326.1 L1684.9,328.3 L1687.0,330.5 L1689.0,332.7 L1691.1,334.9 L1693.1,337.2 L1695.2,339.4 L1697.2,341.6 L1699.3,343.8 L1701.3,346.1 L1703.3,348.3 L1705.4,350.5 L1707.4,352.8 L1709.4,355.0 L1711.4,357.2 L1713.5,359.5 L1715.5,361.7 L1717.5,364.0 L1719.5,366.2 L1721.5,368.5 L1723.5,370.7 L1725.5,373.0 L1727.4,375.2 L1729.4,377.5 L1731.4,379.8 L1733.4,382.0 L1735.3,384.3 L1737.3,386.6 L1739.3,388.8 L1741.2,391.1 L1743.2,393.4 L1745.1,395.7 L1747.1,398.0 L1749.0,400.2 L1751.0,402.5 L1752.9,404.8 L1754.8,407.1 L1756.8,409.4 L1758.7,411.7 L1760.6,414.0 L1762.5,416.3 L1764.4,418.6 L1766.4,421.0 L1768.3,423.3 L1770.2,425.6 L1772.1,427.9 L1774.0,430.2 L1775.9,432.6 L1777.7,434.9 L1779.6,437.2 L1781.5,439.6 L1783.4,441.9 L1785.3,444.3 L1787.1,446.6 L1789.0,449.0 L1790.9,451.3 L1792.7,453.7 L1794.6,456.1 L1796.4,458.4 L1798.3,460.8 L1800.1,463.2 L1802.0,465.6 L1803.8,467.9 L1805.7,470.3 L1807.5,472.7 L1809.3,475.1 L1811.1,477.5 L1813.0,479.9 L1814.8,482.3 L1816.6,484.7 L1818.4,487.2" fill="none" stroke="#000" stroke-width="3" stroke-linejoin="round" stroke-dasharray="15 13"/></g>
<g><rect x="390.5" y="1570.5" width="1609.0" height="1157.0" fill="none" stroke="#000" stroke-width="5"/><line x1="350.0" y1="1570.5" x2="390.5" y2="1570.5" stroke="#000" stroke-width="5"/><text x="323.4" y="1599.0" font-size="96.5" text-anchor="end">0</text><line x1="369.0" y1="1699.1" x2="390.5" y2="1699.1" stroke="#000" stroke-width="5"/><line x1="350.0" y1="1827.6" x2="390.5" y2="1827.6" stroke="#000" stroke-width="5"/><text x="323.4" y="1856.1" font-size="96.5" text-anchor="end">-1</text><line x1="369.0" y1="1956.2" x2="390.5" y2="1956.2" stroke="#000" stroke-width="5"/><line x1="350.0" y1="2084.7" x2="390.5" y2="2084.7" stroke="#000" stroke-width="5"/><text x="323.4" y="2113.2" font-size="96.5" text-anchor="end">-2</text><line x1="369.0" y1="2213.3" x2="390.5" y2="2213.3" stroke="#000" stroke-width="5"/><line x1="350.0" y1="2341.8" x2="390.5" y2="2341.8" stroke="#000" stroke-width="5"/><text x="323.4" y="2370.3" font-size="96.5" text-anchor="end">-3</text><line x1="369.0" y1="2470.4" x2="390.5" y2="2470.4" stroke="#000" stroke-width="5"/><line x1="350.0" y1="2598.9" x2="390.5" y2="2598.9" stroke="#000" stroke-width="5"/><text x="323.4" y="2627.4" font-size="96.5" text-anchor="end">-4</text><line x1="369.0" y1="2727.5" x2="390.5" y2="2727.5" stroke="#000" stroke-width="5"/><line x1="390.5" y1="2727.5" x2="390.5" y2="2766.0" stroke="#000" stroke-width="5"/><text x="389.3" y="2867.0" font-size="96.5" text-anchor="middle">-30</text><line x1="491.1" y1="2727.5" x2="491.1" y2="2745.3" stroke="#000" stroke-width="5"/><line x1="591.6" y1="2727.5" x2="591.6" y2="2766.0" stroke="#000" stroke-width="5"/><text x="590.4" y="2867.0" font-size="96.5" text-anchor="middle">-25</text><line x1="692.2" y1="2727.5" x2="692.2" y2="2745.3" stroke="#000" stroke-width="5"/><line x1="792.8" y1="2727.5" x2="792.8" y2="2766.0" stroke="#000" stroke-width="5"/><text x="791.5" y="2867.0" font-size="96.5" text-anchor="middle">-20</text><line x1="893.3" y1="2727.5" x2="893.3" y2="2745.3" stroke="#000" stroke-width="5"/><line x1="993.9" y1="2727.5" x2="993.9" y2="2766.0" stroke="#000" stroke-width="5"/><text x="992.7" y="2867.0" font-size="96.5" text-anchor="middle">-15</text><line x1="1094.4" y1="2727.5" x2="1094.4" y2="2745.3" stroke="#000" stroke-width="5"/><line x1="1195.0" y1="2727.5" x2="1195.0" y2="2766.0" stroke="#000" stroke-width="5"/><text x="1193.8" y="2867.0" font-size="96.5" text-anchor="middle">-10</text><line x1="1295.6" y1="2727.5" x2="1295.6" y2="2745.3" stroke="#000" stroke-width="5"/><line x1="1396.1" y1="2727.5" x2="1396.1" y2="2766.0" stroke="#000" stroke-width="5"/><text x="1394.9" y="2867.0" font-size="96.5" text-anchor="middle">-5</text><line x1="1496.7" y1="2727.5" x2="1496.7" y2="2745.3" stroke="#000" stroke-width="5"/><line x1="1597.2" y1="2727.5" x2="1597.2" y2="2766.0" stroke="#000" stroke-width="5"/><text x="1596.0" y="2867.0" font-size="96.5" text-anchor="middle">0</text><line x1="1697.8" y1="2727.5" x2="1697.8" y2="2745.3" stroke="#000" stroke-width="5"/><line x1="1798.4" y1="2727.5" x2="1798.4" y2="2766.0" stroke="#000" stroke-width="5"/><text x="1797.2" y="2867.0" font-size="96.5" text-anchor="middle">5</text><line x1="1898.9" y1="2727.5" x2="1898.9" y2="2745.3" stroke="#000" stroke-width="5"/><line x1="1999.5" y1="2727.5" x2="1999.5" y2="2766.0" stroke="#000" stroke-width="5"/><text x="1998.3" y="2867.0" font-size="96.5" text-anchor="middle">10</text><text x="1969.1" y="1666.4" font-size="92.3" text-anchor="end">SCT</text><text transform="translate(1057.0,2983.0) scale(1.200,1)" x="0" y="0" font-size="107.0" font-weight="bold" font-style="italic">&#x3D5;</text><text x="1129.0" y="3012.1" font-size="61.0" font-weight="bold">gr</text><text x="1229.0" y="2973.8" font-size="95.0">(&#176;)</text><g transform="translate(132.9,2282.5) rotate(-90)"><text x="0" y="0" font-size="92.0"><tspan font-style="italic">T</tspan><tspan font-size="58.0" dy="30.7" dx="-5.2">t</tspan><tspan dy="-30.7" dx="14.6">(N&#183;m)</tspan></text></g><rect x="515.6" y="1692.0" width="571.7" height="352.2" fill="#fff" stroke="#000" stroke-width="5.0"/><line x1="531.4" y1="1759.8" x2="697.9" y2="1759.8" stroke="#000" stroke-width="5.0" stroke-dasharray="5 21.9" stroke-linecap="round"/><text x="750.2" y="1791.1" font-size="78.0">3</text><text x="845.8" y="1791.1" font-size="78.0">m<tspan font-size="48.0" dy="-37.0">3</tspan><tspan dy="37.0">/min</tspan></text><line x1="531.4" y1="1876.7" x2="707.6" y2="1876.7" stroke="#000" stroke-width="5.0" stroke-linecap="round"/><text x="750.6" y="1907.1" font-size="78.0">6</text><text x="845.8" y="1907.1" font-size="78.0">m<tspan font-size="48.0" dy="-37.0">3</tspan><tspan dy="37.0">/min</tspan></text><line x1="531.4" y1="1993.9" x2="687.4" y2="1993.9" stroke="#000" stroke-width="5.0" stroke-dasharray="21 24" stroke-linecap="round"/><text x="753.4" y="2026.4" font-size="78.0">12</text><text x="845.8" y="2026.4" font-size="78.0">m<tspan font-size="48.0" dy="-37.0">3</tspan><tspan dy="37.0">/min</tspan></text><path d="M501.1,2265.4 L503.4,2267.4 L505.6,2269.4 L507.9,2271.3 L510.2,2273.3 L512.4,2275.3 L514.7,2277.2 L517.0,2279.2 L519.2,2281.1 L521.5,2283.1 L523.8,2285.1 L526.1,2287.0 L528.4,2288.9 L530.7,2290.9 L533.0,2292.8 L535.3,2294.8 L537.6,2296.7 L539.9,2298.6 L542.2,2300.5 L544.5,2302.5 L546.8,2304.4 L549.1,2306.3 L551.5,2308.2 L553.8,2310.1 L556.1,2312.0 L558.4,2314.0 L560.8,2315.9 L563.1,2317.8 L565.4,2319.7 L567.8,2321.6 L570.1,2323.5 L572.4,2325.4 L574.8,2327.3 L577.1,2329.2 L579.4,2331.1 L581.8,2333.0 L584.1,2334.9 L586.5,2336.7 L588.8,2338.6 L591.2,2340.5 L593.5,2342.4 L595.9,2344.3 L598.2,2346.2 L600.6,2348.1 L602.9,2350.0 L605.3,2351.9 L607.6,2353.7 L610.0,2355.6 L612.3,2357.5 L614.7,2359.4 L617.0,2361.3 L619.4,2363.2 L621.7,2365.1 L624.1,2366.9 L626.4,2368.8 L628.8,2370.7 L631.1,2372.6 L633.5,2374.5 L635.8,2376.4 L638.2,2378.3 L640.5,2380.2 L642.9,2382.1 L645.2,2384.0 L647.5,2385.9 L649.9,2387.8 L652.2,2389.6 L654.6,2391.5 L656.9,2393.4 L659.2,2395.4 L661.6,2397.3 L663.9,2399.2 L666.2,2401.1 L668.5,2403.0 L670.9,2404.9 L673.2,2406.8 L675.5,2408.7 L677.8,2410.6 L680.1,2412.6 L682.5,2414.5 L684.8,2416.4 L687.1,2418.3 L689.4,2420.3 L691.7,2422.2 L694.0,2424.1 L696.3,2426.1 L698.6,2428.0 L700.9,2430.0 L703.2,2431.9 L705.4,2433.8 L707.7,2435.8 L710.0,2437.7 L712.3,2439.7 L714.6,2441.7 L716.8,2443.6 L719.1,2445.6 L721.4,2447.5 L723.7,2449.5 L725.9,2451.5 L728.2,2453.4 L730.5,2455.4 L732.7,2457.4 L735.0,2459.3 L737.3,2461.3 L739.5,2463.3 L741.8,2465.2 L744.1,2467.2 L746.3,2469.2 L748.6,2471.2 L750.9,2473.1 L753.1,2475.1 L755.4,2477.1 L757.7,2479.1 L759.9,2481.0 L762.2,2483.0 L764.5,2485.0 L766.7,2487.0 L769.0,2488.9 L771.3,2490.9 L773.5,2492.9 L775.8,2494.9 L778.1,2496.8 L780.3,2498.8 L782.6,2500.8 L784.9,2502.8 L787.2,2504.7 L789.4,2506.7 L791.7,2508.7 L794.0,2510.6 L796.3,2512.6 L798.6,2514.6 L800.9,2516.5 L803.2,2518.5 L805.5,2520.5 L807.7,2522.4 L810.0,2524.4 L812.3,2526.4 L814.7,2528.3 L817.0,2530.3 L819.3,2532.2 L821.6,2534.2 L823.9,2536.1 L826.2,2538.1 L828.5,2540.0 L830.9,2541.9 L833.2,2543.9 L835.5,2545.8 L837.9,2547.7 L840.3,2549.6 L842.6,2551.4 L845.1,2553.2 L847.5,2554.9 L850.0,2556.6 L852.5,2558.1 L855.1,2559.6 L857.7,2561.0 L860.4,2562.2 L863.1,2563.3 L865.9,2564.3 L868.8,2565.2 L871.7,2565.9 L874.6,2566.5 L877.6,2567.0 L880.6,2567.3 L883.6,2567.6 L886.6,2567.7 L889.6,2567.7 L892.6,2567.6 L895.6,2567.4 L898.6,2567.1 L901.6,2566.8 L904.5,2566.3 L907.4,2565.7 L910.3,2565.1 L913.2,2564.3 L916.1,2563.5 L918.9,2562.7 L921.7,2561.7 L924.6,2560.7 L927.4,2559.7 L930.2,2558.5 L932.9,2557.4 L935.7,2556.2 L938.5,2554.9 L941.2,2553.6 L944.0,2552.3 L946.7,2550.9 L949.4,2549.6 L952.1,2548.2 L954.9,2546.7 L957.6,2545.3 L960.3,2543.9 L963.0,2542.4 L965.7,2541.0 L968.4,2539.5 L971.0,2538.1 L973.7,2536.7 L976.4,2535.2 L979.1,2533.8 L981.8,2532.5 L984.5,2531.1 L987.2,2529.7 L989.9,2528.3 L992.6,2527.0 L995.2,2525.6 L997.9,2524.3 L1000.6,2523.0 L1003.3,2521.6 L1006.0,2520.3 L1008.6,2519.0 L1011.3,2517.6 L1014.0,2516.3 L1016.6,2515.0 L1019.3,2513.6 L1022.0,2512.3 L1024.6,2510.9 L1027.3,2509.6 L1030.0,2508.2 L1032.6,2506.8 L1035.3,2505.4 L1037.9,2504.1 L1040.6,2502.7 L1043.2,2501.3 L1045.9,2499.9 L1048.5,2498.4 L1051.1,2497.0 L1053.8,2495.6 L1056.4,2494.1 L1059.1,2492.7 L1061.7,2491.2 L1064.3,2489.8 L1066.9,2488.3 L1069.6,2486.8 L1072.2,2485.4 L1074.8,2483.9 L1077.4,2482.4 L1080.0,2480.9 L1082.6,2479.4 L1085.2,2477.9 L1087.8,2476.4 L1090.4,2474.8 L1093.0,2473.3 L1095.6,2471.8 L1098.2,2470.2 L1100.8,2468.7 L1103.4,2467.1 L1106.0,2465.6 L1108.5,2464.0 L1111.1,2462.5 L1113.7,2460.9 L1116.3,2459.3 L1118.8,2457.7 L1121.4,2456.1 L1124.0,2454.5 L1126.5,2452.9 L1129.1,2451.3 L1131.6,2449.7 L1134.2,2448.1 L1136.7,2446.5 L1139.3,2444.9 L1141.8,2443.2 L1144.3,2441.6 L1146.9,2440.0 L1149.4,2438.3 L1151.9,2436.7 L1154.5,2435.1 L1157.0,2433.4 L1159.5,2431.8 L1162.0,2430.1 L1164.5,2428.4 L1167.0,2426.8 L1169.6,2425.1 L1172.1,2423.4 L1174.6,2421.7 L1177.1,2420.1 L1179.5,2418.4 L1182.0,2416.7 L1184.5,2415.0 L1187.0,2413.3 L1189.5,2411.6 L1192.0,2409.9 L1194.4,2408.2 L1196.9,2406.4 L1199.4,2404.7 L1201.8,2403.0 L1204.3,2401.3 L1206.7,2399.5 L1209.2,2397.8 L1211.6,2396.0 L1214.1,2394.3 L1216.5,2392.5 L1219.0,2390.8 L1221.4,2389.0 L1223.8,2387.2 L1226.3,2385.5 L1228.7,2383.7 L1231.1,2381.9 L1233.5,2380.1 L1235.9,2378.3 L1238.3,2376.5 L1240.7,2374.7 L1243.1,2372.9 L1245.5,2371.1 L1247.9,2369.3 L1250.3,2367.5 L1252.7,2365.7 L1255.1,2363.8 L1257.5,2362.0 L1259.9,2360.2 L1262.2,2358.3 L1264.6,2356.5 L1267.0,2354.6 L1269.3,2352.7 L1271.7,2350.9 L1274.0,2349.0 L1276.4,2347.1 L1278.7,2345.2 L1281.0,2343.4 L1283.4,2341.5 L1285.7,2339.6 L1288.0,2337.7 L1290.4,2335.8 L1292.7,2333.9 L1295.0,2331.9 L1297.3,2330.0 L1299.6,2328.1 L1301.9,2326.2 L1304.2,2324.2 L1306.5,2322.3 L1308.8,2320.3 L1311.1,2318.4 L1313.4,2316.4 L1315.7,2314.5 L1318.0,2312.5 L1320.3,2310.6 L1322.5,2308.6 L1324.8,2306.6 L1327.1,2304.7 L1329.4,2302.7 L1331.6,2300.7 L1333.9,2298.7 L1336.1,2296.7 L1338.4,2294.7 L1340.7,2292.7 L1342.9,2290.7 L1345.2,2288.7 L1347.4,2286.7 L1349.6,2284.7 L1351.9,2282.7 L1354.1,2280.7 L1356.4,2278.7 L1358.6,2276.7 L1360.8,2274.6 L1363.1,2272.6 L1365.3,2270.6 L1367.5,2268.6 L1369.7,2266.5 L1372.0,2264.5 L1374.2,2262.5 L1376.4,2260.4 L1378.6,2258.4 L1380.8,2256.3 L1383.1,2254.3 L1385.3,2252.3 L1387.5,2250.2 L1389.7,2248.2 L1391.9,2246.1 L1394.1,2244.1 L1396.3,2242.0 L1398.5,2240.0 L1400.7,2237.9 L1402.9,2235.8 L1405.1,2233.8 L1407.3,2231.7 L1409.5,2229.7 L1411.7,2227.6 L1413.9,2225.5 L1416.1,2223.5 L1418.3,2221.4 L1420.4,2219.3 L1422.6,2217.2 L1424.8,2215.2 L1427.0,2213.1 L1429.1,2211.0 L1431.3,2208.9 L1433.5,2206.8 L1435.6,2204.7 L1437.8,2202.6 L1439.9,2200.5 L1442.0,2198.4 L1444.2,2196.3 L1446.3,2194.2 L1448.4,2192.0 L1450.6,2189.9 L1452.7,2187.8 L1454.8,2185.7 L1456.9,2183.5 L1459.0,2181.4 L1461.1,2179.2 L1463.1,2177.1 L1465.2,2174.9 L1467.3,2172.8 L1469.4,2170.6 L1471.4,2168.4 L1473.5,2166.2 L1475.5,2164.1 L1477.5,2161.9 L1479.6,2159.7 L1481.6,2157.5 L1483.6,2155.3 L1485.6,2153.0 L1487.6,2150.8 L1489.6,2148.6 L1491.6,2146.4 L1493.6,2144.2 L1495.6,2142.0 L1497.7,2139.8 L1499.7,2137.6 L1501.7,2135.4 L1503.8,2133.2 L1505.8,2131.0 L1507.9,2128.9 L1510.0,2126.7 L1512.1,2124.6 L1514.3,2122.5 L1516.5,2120.4 L1518.6,2118.3 L1520.9,2116.2 L1523.1,2114.2 L1525.4,2112.2 L1527.7,2110.2 L1530.1,2108.2 L1532.5,2106.3 L1534.9,2104.4 L1537.3,2102.6 L1539.8,2100.8 L1542.4,2099.0 L1544.9,2097.3 L1547.5,2095.7 L1550.2,2094.1 L1552.9,2092.6 L1555.6,2091.1 L1558.3,2089.8 L1561.1,2088.5 L1563.9,2087.4 L1566.8,2086.3 L1569.6,2085.4 L1572.5,2084.5 L1575.4,2083.9 L1578.2,2083.3 L1581.1,2082.9 L1584.0,2082.7 L1586.9,2082.6 L1589.7,2082.7 L1592.6,2083.0 L1595.4,2083.4 L1598.2,2084.0 L1601.0,2084.8 L1603.7,2085.7 L1606.4,2086.7 L1609.1,2087.9 L1611.7,2089.2 L1614.3,2090.6 L1616.8,2092.1 L1619.3,2093.7 L1621.7,2095.5 L1624.1,2097.3 L1626.5,2099.1 L1628.8,2101.1 L1631.1,2103.1 L1633.4,2105.2 L1635.6,2107.3 L1637.8,2109.5 L1640.1,2111.7 L1642.3,2113.9 L1644.4,2116.1 L1646.6,2118.3 L1648.8,2120.5 L1651.0,2122.7 L1653.2,2124.9 L1655.4,2127.0 L1657.6,2129.1 L1659.8,2131.2 L1662.0,2133.3 L1664.2,2135.4 L1666.4,2137.4 L1668.7,2139.4 L1670.9,2141.4 L1673.2,2143.4 L1675.4,2145.3 L1677.7,2147.3 L1679.9,2149.2 L1682.2,2151.1 L1684.5,2153.1 L1686.7,2155.0 L1689.0,2156.9 L1691.3,2158.8 L1693.5,2160.7 L1695.8,2162.6 L1698.1,2164.5 L1700.4,2166.5 L1702.6,2168.4 L1704.9,2170.3 L1707.2,2172.3 L1709.4,2174.2 L1711.7,2176.2 L1714.0,2178.1 L1716.3,2180.1 L1718.5,2182.0 L1720.8,2184.0 L1723.1,2186.0 L1725.3,2187.9 L1727.6,2189.9 L1729.9,2191.9 L1732.2,2193.9 L1734.4,2195.9 L1736.7,2197.8 L1739.0,2199.8 L1741.3,2201.8 L1743.6,2203.8 L1745.8,2205.8 L1748.1,2207.8 L1750.4,2209.7 L1752.7,2211.7 L1755.0,2213.7 L1757.3,2215.7 L1759.6,2217.7 L1761.9,2219.6 L1764.2,2221.6 L1766.5,2223.6 L1768.8,2225.5 L1771.1,2227.5 L1773.4,2229.4 L1775.7,2231.4 L1778.0,2233.3 L1780.3,2235.3 L1782.6,2237.2 L1784.9,2239.1 L1787.3,2241.0 L1789.6,2243.0 L1791.9,2244.9 L1794.2,2246.8 L1796.6,2248.6 L1798.9,2250.5 L1801.3,2252.4 L1803.6,2254.3 L1806.0,2256.1 L1808.3,2257.9 L1810.7,2259.8 L1813.0,2261.6 L1815.4,2263.4 L1817.8,2265.2" fill="none" stroke="#000" stroke-width="3" stroke-linejoin="round" stroke-dasharray="5 11.7"/><path d="M501.2,2247.6 L503.2,2249.9 L505.1,2252.2 L507.1,2254.4 L509.2,2256.7 L511.2,2258.9 L513.2,2261.1 L515.3,2263.3 L517.4,2265.5 L519.5,2267.6 L521.6,2269.8 L523.7,2271.9 L525.9,2274.0 L528.0,2276.1 L530.2,2278.2 L532.3,2280.3 L534.5,2282.3 L536.7,2284.4 L538.9,2286.4 L541.1,2288.4 L543.4,2290.4 L545.6,2292.5 L547.8,2294.5 L550.1,2296.4 L552.3,2298.4 L554.6,2300.4 L556.8,2302.4 L559.1,2304.4 L561.4,2306.3 L563.6,2308.3 L565.9,2310.2 L568.2,2312.2 L570.5,2314.1 L572.7,2316.1 L575.0,2318.1 L577.3,2320.0 L579.6,2322.0 L581.9,2323.9 L584.1,2325.9 L586.4,2327.8 L588.7,2329.8 L590.9,2331.8 L593.2,2333.7 L595.5,2335.7 L597.7,2337.7 L600.0,2339.7 L602.2,2341.7 L604.5,2343.7 L606.7,2345.7 L609.0,2347.7 L611.2,2349.7 L613.4,2351.7 L615.7,2353.7 L617.9,2355.7 L620.1,2357.7 L622.3,2359.8 L624.6,2361.8 L626.8,2363.8 L629.0,2365.9 L631.2,2367.9 L633.4,2369.9 L635.6,2372.0 L637.8,2374.0 L640.0,2376.0 L642.3,2378.1 L644.5,2380.1 L646.7,2382.1 L648.9,2384.2 L651.1,2386.2 L653.3,2388.3 L655.5,2390.3 L657.7,2392.4 L659.9,2394.4 L662.1,2396.4 L664.3,2398.5 L666.5,2400.5 L668.7,2402.6 L670.9,2404.6 L673.1,2406.7 L675.3,2408.7 L677.5,2410.7 L679.8,2412.8 L682.0,2414.8 L684.2,2416.8 L686.4,2418.9 L688.6,2420.9 L690.8,2422.9 L693.1,2424.9 L695.3,2427.0 L697.5,2429.0 L699.7,2431.0 L702.0,2433.0 L704.2,2435.0 L706.4,2437.0 L708.7,2439.0 L710.9,2441.0 L713.2,2443.0 L715.4,2445.0 L717.7,2447.0 L719.9,2449.0 L722.2,2451.0 L724.4,2452.9 L726.7,2454.9 L729.0,2456.9 L731.2,2458.8 L733.5,2460.8 L735.8,2462.7 L738.1,2464.7 L740.4,2466.6 L742.7,2468.5 L745.0,2470.5 L747.3,2472.4 L749.6,2474.3 L752.0,2476.2 L754.3,2478.1 L756.6,2480.0 L758.9,2481.9 L761.3,2483.7 L763.6,2485.6 L766.0,2487.5 L768.4,2489.3 L770.7,2491.2 L773.1,2493.1 L775.4,2494.9 L777.8,2496.8 L780.1,2498.7 L782.5,2500.5 L784.8,2502.4 L787.1,2504.3 L789.5,2506.2 L791.8,2508.1 L794.1,2510.1 L796.4,2512.0 L798.7,2514.0 L800.9,2515.9 L803.2,2517.9 L805.4,2520.0 L807.6,2522.0 L809.8,2524.1 L812.0,2526.2 L814.2,2528.3 L816.3,2530.4 L818.5,2532.5 L820.7,2534.6 L822.8,2536.7 L825.0,2538.8 L827.2,2540.9 L829.4,2542.9 L831.6,2544.9 L833.9,2546.9 L836.1,2548.9 L838.5,2550.8 L840.8,2552.7 L843.2,2554.5 L845.6,2556.2 L848.1,2557.9 L850.7,2559.6 L853.3,2561.1 L855.9,2562.6 L858.6,2564.0 L861.4,2565.3 L864.2,2566.5 L867.1,2567.6 L870.0,2568.5 L872.9,2569.4 L875.8,2570.1 L878.8,2570.7 L881.8,2571.1 L884.7,2571.4 L887.7,2571.5 L890.7,2571.5 L893.7,2571.3 L896.6,2570.9 L899.5,2570.3 L902.4,2569.7 L905.3,2568.9 L908.2,2568.1 L911.1,2567.2 L914.0,2566.3 L916.8,2565.4 L919.7,2564.5 L922.5,2563.5 L925.4,2562.5 L928.2,2561.5 L931.0,2560.5 L933.8,2559.4 L936.6,2558.4 L939.4,2557.3 L942.2,2556.2 L945.0,2555.0 L947.7,2553.9 L950.5,2552.7 L953.2,2551.5 L956.0,2550.3 L958.7,2549.1 L961.5,2547.9 L964.2,2546.6 L966.9,2545.4 L969.6,2544.1 L972.3,2542.8 L975.0,2541.5 L977.7,2540.2 L980.4,2538.9 L983.1,2537.6 L985.8,2536.2 L988.5,2534.9 L991.2,2533.5 L993.8,2532.1 L996.5,2530.8 L999.2,2529.4 L1001.9,2528.0 L1004.5,2526.6 L1007.2,2525.2 L1009.8,2523.8 L1012.5,2522.4 L1015.2,2521.0 L1017.8,2519.5 L1020.5,2518.1 L1023.1,2516.7 L1025.8,2515.3 L1028.4,2513.8 L1031.1,2512.4 L1033.7,2511.0 L1036.4,2509.5 L1039.0,2508.1 L1041.7,2506.7 L1044.4,2505.3 L1047.0,2503.8 L1049.7,2502.4 L1052.3,2501.0 L1055.0,2499.6 L1057.6,2498.2 L1060.3,2496.7 L1062.9,2495.3 L1065.6,2493.9 L1068.2,2492.5 L1070.9,2491.0 L1073.5,2489.6 L1076.2,2488.2 L1078.8,2486.8 L1081.5,2485.3 L1084.1,2483.9 L1086.8,2482.4 L1089.4,2481.0 L1092.0,2479.5 L1094.7,2478.1 L1097.3,2476.6 L1099.9,2475.2 L1102.5,2473.7 L1105.1,2472.2 L1107.8,2470.7 L1110.4,2469.2 L1113.0,2467.7 L1115.6,2466.2 L1118.2,2464.7 L1120.8,2463.2 L1123.3,2461.7 L1125.9,2460.1 L1128.5,2458.6 L1131.1,2457.0 L1133.6,2455.5 L1136.2,2453.9 L1138.7,2452.3 L1141.3,2450.8 L1143.8,2449.2 L1146.4,2447.6 L1148.9,2446.0 L1151.4,2444.4 L1154.0,2442.7 L1156.5,2441.1 L1159.0,2439.5 L1161.5,2437.8 L1164.0,2436.2 L1166.5,2434.5 L1169.0,2432.8 L1171.5,2431.2 L1174.0,2429.5 L1176.5,2427.8 L1178.9,2426.1 L1181.4,2424.4 L1183.9,2422.7 L1186.3,2421.0 L1188.8,2419.3 L1191.3,2417.5 L1193.7,2415.8 L1196.2,2414.1 L1198.6,2412.3 L1201.0,2410.6 L1203.5,2408.8 L1205.9,2407.0 L1208.3,2405.3 L1210.7,2403.5 L1213.1,2401.7 L1215.6,2399.9 L1218.0,2398.1 L1220.4,2396.3 L1222.8,2394.5 L1225.2,2392.7 L1227.5,2390.9 L1229.9,2389.0 L1232.3,2387.2 L1234.7,2385.4 L1237.0,2383.5 L1239.4,2381.7 L1241.8,2379.8 L1244.1,2378.0 L1246.5,2376.1 L1248.8,2374.2 L1251.2,2372.3 L1253.5,2370.5 L1255.9,2368.6 L1258.2,2366.7 L1260.5,2364.8 L1262.9,2362.9 L1265.2,2361.0 L1267.5,2359.1 L1269.8,2357.1 L1272.1,2355.2 L1274.4,2353.3 L1276.7,2351.4 L1279.0,2349.4 L1281.3,2347.5 L1283.6,2345.5 L1285.9,2343.6 L1288.2,2341.6 L1290.5,2339.7 L1292.7,2337.7 L1295.0,2335.7 L1297.3,2333.8 L1299.5,2331.8 L1301.8,2329.8 L1304.0,2327.8 L1306.3,2325.8 L1308.5,2323.8 L1310.8,2321.8 L1313.0,2319.8 L1315.2,2317.8 L1317.5,2315.7 L1319.7,2313.7 L1321.9,2311.7 L1324.1,2309.6 L1326.3,2307.6 L1328.5,2305.6 L1330.7,2303.5 L1332.9,2301.5 L1335.1,2299.4 L1337.3,2297.3 L1339.5,2295.3 L1341.6,2293.2 L1343.8,2291.1 L1346.0,2289.0 L1348.1,2286.9 L1350.3,2284.8 L1352.4,2282.7 L1354.6,2280.6 L1356.7,2278.5 L1358.9,2276.4 L1361.0,2274.3 L1363.1,2272.2 L1365.2,2270.1 L1367.4,2267.9 L1369.5,2265.8 L1371.6,2263.6 L1373.7,2261.5 L1375.8,2259.3 L1377.9,2257.2 L1380.0,2255.0 L1382.0,2252.9 L1384.1,2250.7 L1386.2,2248.5 L1388.3,2246.3 L1390.3,2244.2 L1392.4,2242.0 L1394.4,2239.8 L1396.5,2237.6 L1398.5,2235.4 L1400.6,2233.2 L1402.6,2231.0 L1404.6,2228.7 L1406.6,2226.5 L1408.6,2224.3 L1410.7,2222.1 L1412.7,2219.8 L1414.7,2217.6 L1416.6,2215.3 L1418.6,2213.1 L1420.6,2210.8 L1422.6,2208.6 L1424.6,2206.3 L1426.5,2204.0 L1428.5,2201.8 L1430.4,2199.5 L1432.4,2197.2 L1434.3,2194.9 L1436.3,2192.6 L1438.2,2190.3 L1440.1,2188.0 L1442.1,2185.7 L1444.0,2183.4 L1445.9,2181.1 L1447.8,2178.8 L1449.7,2176.5 L1451.6,2174.1 L1453.5,2171.8 L1455.3,2169.5 L1457.2,2167.1 L1459.1,2164.8 L1460.9,2162.4 L1462.8,2160.1 L1464.6,2157.7 L1466.5,2155.3 L1468.3,2153.0 L1470.2,2150.6 L1472.0,2148.2 L1473.9,2145.9 L1475.7,2143.5 L1477.6,2141.1 L1479.4,2138.8 L1481.3,2136.4 L1483.1,2134.1 L1485.0,2131.7 L1486.8,2129.3 L1488.7,2127.0 L1490.6,2124.7 L1492.4,2122.3 L1494.3,2120.0 L1496.2,2117.7 L1498.1,2115.3 L1500.1,2113.0 L1502.0,2110.7 L1503.9,2108.4 L1505.9,2106.2 L1507.9,2103.9 L1509.8,2101.6 L1511.8,2099.4 L1513.9,2097.1 L1515.9,2094.9 L1517.9,2092.7 L1520.0,2090.5 L1522.1,2088.3 L1524.2,2086.1 L1526.3,2084.0 L1528.5,2081.8 L1530.6,2079.7 L1532.8,2077.6 L1535.0,2075.5 L1537.3,2073.5 L1539.6,2071.4 L1541.8,2069.4 L1544.2,2067.5 L1546.5,2065.5 L1548.9,2063.7 L1551.4,2061.9 L1553.9,2060.1 L1556.4,2058.5 L1558.9,2056.9 L1561.5,2055.4 L1564.2,2054.0 L1566.9,2052.7 L1569.7,2051.5 L1572.5,2050.5 L1575.3,2049.5 L1578.2,2048.7 L1581.2,2048.1 L1584.1,2047.7 L1587.0,2047.5 L1590.0,2047.5 L1592.8,2047.7 L1595.7,2048.2 L1598.5,2048.9 L1601.3,2049.8 L1604.0,2050.8 L1606.7,2052.0 L1609.3,2053.4 L1611.9,2054.9 L1614.4,2056.6 L1616.9,2058.3 L1619.3,2060.1 L1621.6,2062.0 L1623.9,2064.0 L1626.1,2066.0 L1628.3,2068.1 L1630.5,2070.3 L1632.7,2072.4 L1634.8,2074.6 L1636.9,2076.8 L1639.0,2079.0 L1641.1,2081.2 L1643.2,2083.4 L1645.3,2085.6 L1647.4,2087.7 L1649.5,2089.9 L1651.6,2092.1 L1653.7,2094.3 L1655.7,2096.4 L1657.8,2098.6 L1659.9,2100.8 L1662.0,2102.9 L1664.1,2105.1 L1666.1,2107.3 L1668.2,2109.4 L1670.3,2111.5 L1672.4,2113.7 L1674.5,2115.8 L1676.6,2117.9 L1678.7,2120.0 L1680.8,2122.2 L1683.0,2124.3 L1685.1,2126.4 L1687.2,2128.5 L1689.4,2130.5 L1691.5,2132.6 L1693.7,2134.7 L1695.9,2136.7 L1698.1,2138.8 L1700.3,2140.8 L1702.5,2142.9 L1704.7,2144.9 L1706.9,2147.0 L1709.1,2149.0 L1711.3,2151.0 L1713.5,2153.0 L1715.8,2155.1 L1718.0,2157.1 L1720.2,2159.1 L1722.5,2161.1 L1724.7,2163.1 L1726.9,2165.2 L1729.2,2167.2 L1731.4,2169.2 L1733.6,2171.2 L1735.9,2173.2 L1738.1,2175.3 L1740.3,2177.3 L1742.5,2179.3 L1744.8,2181.4 L1747.0,2183.4 L1749.2,2185.5 L1751.4,2187.5 L1753.5,2189.6 L1755.7,2191.7 L1757.9,2193.7 L1760.1,2195.8 L1762.2,2197.9 L1764.3,2200.0 L1766.5,2202.2 L1768.6,2204.3 L1770.7,2206.4 L1772.8,2208.6 L1774.9,2210.7 L1776.9,2212.9 L1779.0,2215.1 L1781.0,2217.3 L1783.0,2219.5 L1785.0,2221.8 L1787.0,2224.0 L1789.0,2226.3 L1790.9,2228.5 L1792.9,2230.8 L1794.8,2233.1 L1796.7,2235.5 L1798.5,2237.8 L1800.4,2240.2 L1802.2,2242.6 L1804.0,2245.0 L1805.8,2247.4 L1807.5,2249.9 L1809.2,2252.3 L1810.9,2254.8 L1812.6,2257.4 L1814.2,2259.9 L1815.9,2262.5 L1817.4,2265.1" fill="none" stroke="#000" stroke-width="3" stroke-linejoin="round"/><path d="M501.1,2170.1 L502.6,2172.7 L504.1,2175.3 L505.7,2177.9 L507.2,2180.5 L508.8,2183.1 L510.3,2185.6 L511.9,2188.2 L513.5,2190.7 L515.2,2193.3 L516.8,2195.8 L518.4,2198.3 L520.1,2200.8 L521.8,2203.3 L523.5,2205.8 L525.2,2208.3 L526.9,2210.7 L528.6,2213.2 L530.4,2215.6 L532.1,2218.1 L533.9,2220.5 L535.7,2222.9 L537.4,2225.3 L539.2,2227.7 L541.1,2230.1 L542.9,2232.5 L544.7,2234.9 L546.6,2237.2 L548.4,2239.6 L550.3,2242.0 L552.1,2244.3 L554.0,2246.6 L555.9,2249.0 L557.8,2251.3 L559.7,2253.6 L561.6,2255.9 L563.6,2258.2 L565.5,2260.5 L567.4,2262.8 L569.4,2265.1 L571.3,2267.4 L573.3,2269.7 L575.3,2272.0 L577.2,2274.2 L579.2,2276.5 L581.2,2278.7 L583.2,2281.0 L585.2,2283.2 L587.2,2285.5 L589.2,2287.7 L591.2,2290.0 L593.2,2292.2 L595.2,2294.4 L597.2,2296.6 L599.2,2298.9 L601.2,2301.1 L603.3,2303.3 L605.3,2305.5 L607.3,2307.8 L609.3,2310.0 L611.3,2312.2 L613.3,2314.5 L615.3,2316.7 L617.3,2318.9 L619.3,2321.2 L621.3,2323.4 L623.3,2325.7 L625.3,2327.9 L627.3,2330.2 L629.2,2332.4 L631.2,2334.7 L633.2,2337.0 L635.1,2339.3 L637.0,2341.5 L639.0,2343.8 L640.9,2346.1 L642.8,2348.4 L644.8,2350.7 L646.7,2353.0 L648.6,2355.4 L650.5,2357.7 L652.4,2360.0 L654.4,2362.3 L656.3,2364.6 L658.2,2366.9 L660.1,2369.2 L662.0,2371.5 L664.0,2373.8 L665.9,2376.1 L667.8,2378.4 L669.8,2380.7 L671.7,2383.0 L673.6,2385.3 L675.6,2387.6 L677.6,2389.9 L679.5,2392.1 L681.5,2394.4 L683.5,2396.6 L685.5,2398.9 L687.5,2401.1 L689.5,2403.4 L691.5,2405.6 L693.6,2407.8 L695.6,2410.0 L697.6,2412.2 L699.7,2414.4 L701.7,2416.6 L703.8,2418.8 L705.8,2421.0 L707.9,2423.2 L710.0,2425.4 L712.1,2427.6 L714.1,2429.8 L716.2,2431.9 L718.3,2434.1 L720.4,2436.3 L722.5,2438.4 L724.6,2440.6 L726.7,2442.7 L728.8,2444.9 L730.9,2447.0 L733.0,2449.2 L735.1,2451.4 L737.2,2453.5 L739.3,2455.7 L741.4,2457.8 L743.5,2460.0 L745.6,2462.1 L747.7,2464.3 L749.8,2466.4 L751.9,2468.6 L754.0,2470.7 L756.1,2472.9 L758.1,2475.0 L760.2,2477.2 L762.3,2479.3 L764.4,2481.5 L766.5,2483.7 L768.5,2485.8 L770.6,2488.0 L772.7,2490.2 L774.7,2492.3 L776.8,2494.5 L778.8,2496.7 L780.9,2498.9 L782.9,2501.0 L785.0,2503.2 L787.0,2505.4 L789.0,2507.6 L791.1,2509.8 L793.1,2512.0 L795.2,2514.1 L797.2,2516.3 L799.3,2518.5 L801.4,2520.7 L803.4,2522.8 L805.5,2525.0 L807.6,2527.2 L809.6,2529.3 L811.7,2531.5 L813.8,2533.7 L815.9,2535.8 L818.0,2538.0 L820.1,2540.1 L822.3,2542.3 L824.4,2544.4 L826.5,2546.5 L828.7,2548.6 L830.9,2550.8 L833.0,2552.9 L835.2,2555.0 L837.4,2557.1 L839.7,2559.2 L841.9,2561.2 L844.2,2563.3 L846.5,2565.3 L848.8,2567.2 L851.2,2569.1 L853.6,2570.9 L856.1,2572.6 L858.6,2574.2 L861.2,2575.7 L863.9,2577.0 L866.6,2578.3 L869.3,2579.4 L872.2,2580.5 L875.0,2581.4 L877.9,2582.2 L880.8,2582.9 L883.7,2583.4 L886.6,2583.9 L889.6,2584.2 L892.5,2584.5 L895.5,2584.6 L898.4,2584.6 L901.4,2584.5 L904.3,2584.3 L907.2,2584.0 L910.1,2583.6 L913.1,2583.1 L916.0,2582.6 L918.9,2581.9 L921.8,2581.2 L924.7,2580.5 L927.6,2579.6 L930.4,2578.7 L933.3,2577.8 L936.2,2576.8 L939.0,2575.7 L941.9,2574.7 L944.8,2573.5 L947.6,2572.4 L950.4,2571.2 L953.3,2570.0 L956.1,2568.8 L958.9,2567.5 L961.7,2566.3 L964.5,2565.1 L967.3,2563.8 L970.1,2562.6 L972.9,2561.4 L975.7,2560.1 L978.4,2558.9 L981.2,2557.7 L984.0,2556.5 L986.7,2555.3 L989.5,2554.1 L992.2,2552.9 L994.9,2551.6 L997.7,2550.4 L1000.4,2549.2 L1003.1,2548.0 L1005.8,2546.8 L1008.5,2545.6 L1011.2,2544.3 L1014.0,2543.1 L1016.7,2541.9 L1019.4,2540.6 L1022.1,2539.4 L1024.8,2538.1 L1027.5,2536.8 L1030.2,2535.5 L1032.8,2534.3 L1035.5,2533.0 L1038.2,2531.6 L1040.9,2530.3 L1043.6,2529.0 L1046.3,2527.7 L1049.0,2526.3 L1051.6,2525.0 L1054.3,2523.6 L1057.0,2522.3 L1059.6,2520.9 L1062.3,2519.5 L1065.0,2518.1 L1067.6,2516.7 L1070.3,2515.3 L1072.9,2513.9 L1075.5,2512.5 L1078.2,2511.0 L1080.8,2509.6 L1083.5,2508.1 L1086.1,2506.7 L1088.7,2505.2 L1091.3,2503.7 L1093.9,2502.2 L1096.6,2500.7 L1099.2,2499.2 L1101.8,2497.7 L1104.4,2496.2 L1106.9,2494.6 L1109.5,2493.1 L1112.1,2491.5 L1114.7,2490.0 L1117.3,2488.4 L1119.8,2486.8 L1122.4,2485.2 L1124.9,2483.6 L1127.5,2482.0 L1130.0,2480.4 L1132.6,2478.8 L1135.1,2477.1 L1137.6,2475.5 L1140.1,2473.9 L1142.7,2472.2 L1145.2,2470.5 L1147.7,2468.8 L1150.2,2467.1 L1152.6,2465.4 L1155.1,2463.7 L1157.6,2462.0 L1160.1,2460.3 L1162.5,2458.6 L1165.0,2456.8 L1167.4,2455.1 L1169.9,2453.3 L1172.3,2451.5 L1174.7,2449.7 L1177.1,2447.9 L1179.5,2446.1 L1181.9,2444.3 L1184.3,2442.5 L1186.7,2440.7 L1189.1,2438.8 L1191.4,2437.0 L1193.8,2435.1 L1196.2,2433.2 L1198.5,2431.4 L1200.8,2429.5 L1203.2,2427.6 L1205.5,2425.7 L1207.8,2423.7 L1210.1,2421.8 L1212.4,2419.9 L1214.7,2417.9 L1216.9,2416.0 L1219.2,2414.0 L1221.5,2412.0 L1223.7,2410.0 L1225.9,2408.0 L1228.2,2406.0 L1230.4,2404.0 L1232.6,2402.0 L1234.8,2400.0 L1237.0,2397.9 L1239.2,2395.9 L1241.3,2393.8 L1243.5,2391.7 L1245.6,2389.6 L1247.8,2387.5 L1249.9,2385.4 L1252.1,2383.3 L1254.2,2381.2 L1256.3,2379.1 L1258.4,2377.0 L1260.5,2374.8 L1262.6,2372.7 L1264.7,2370.5 L1266.7,2368.4 L1268.8,2366.2 L1270.8,2364.0 L1272.9,2361.8 L1274.9,2359.6 L1277.0,2357.4 L1279.0,2355.2 L1281.0,2353.0 L1283.0,2350.8 L1285.0,2348.5 L1287.0,2346.3 L1289.0,2344.1 L1291.0,2341.8 L1293.0,2339.5 L1295.0,2337.3 L1296.9,2335.0 L1298.9,2332.7 L1300.8,2330.5 L1302.8,2328.2 L1304.7,2325.9 L1306.6,2323.6 L1308.6,2321.3 L1310.5,2318.9 L1312.4,2316.6 L1314.3,2314.3 L1316.2,2312.0 L1318.1,2309.6 L1320.0,2307.3 L1321.9,2305.0 L1323.8,2302.6 L1325.6,2300.3 L1327.5,2297.9 L1329.4,2295.5 L1331.2,2293.2 L1333.1,2290.8 L1334.9,2288.4 L1336.8,2286.0 L1338.6,2283.6 L1340.4,2281.3 L1342.2,2278.9 L1344.1,2276.5 L1345.9,2274.0 L1347.7,2271.6 L1349.5,2269.2 L1351.2,2266.8 L1353.0,2264.4 L1354.8,2261.9 L1356.6,2259.5 L1358.3,2257.0 L1360.1,2254.6 L1361.8,2252.1 L1363.5,2249.7 L1365.3,2247.2 L1367.0,2244.8 L1368.7,2242.3 L1370.4,2239.8 L1372.1,2237.3 L1373.8,2234.8 L1375.5,2232.3 L1377.1,2229.8 L1378.8,2227.3 L1380.4,2224.8 L1382.1,2222.3 L1383.7,2219.8 L1385.3,2217.3 L1387.0,2214.7 L1388.6,2212.2 L1390.2,2209.6 L1391.8,2207.1 L1393.3,2204.5 L1394.9,2202.0 L1396.5,2199.4 L1398.0,2196.9 L1399.6,2194.3 L1401.1,2191.7 L1402.6,2189.1 L1404.1,2186.5 L1405.6,2184.0 L1407.1,2181.4 L1408.6,2178.8 L1410.1,2176.1 L1411.6,2173.5 L1413.0,2170.9 L1414.5,2168.3 L1415.9,2165.7 L1417.4,2163.0 L1418.8,2160.4 L1420.2,2157.8 L1421.6,2155.1 L1423.1,2152.5 L1424.5,2149.9 L1425.9,2147.2 L1427.2,2144.5 L1428.6,2141.9 L1430.0,2139.2 L1431.4,2136.6 L1432.7,2133.9 L1434.1,2131.2 L1435.5,2128.6 L1436.8,2125.9 L1438.2,2123.2 L1439.5,2120.5 L1440.9,2117.8 L1442.2,2115.2 L1443.5,2112.5 L1444.9,2109.8 L1446.2,2107.1 L1447.5,2104.4 L1448.8,2101.7 L1450.2,2099.0 L1451.5,2096.3 L1452.8,2093.6 L1454.1,2090.9 L1455.4,2088.2 L1456.7,2085.5 L1458.0,2082.8 L1459.3,2080.1 L1460.6,2077.4 L1461.9,2074.7 L1463.2,2072.0 L1464.5,2069.3 L1465.8,2066.6 L1467.2,2063.9 L1468.5,2061.2 L1469.8,2058.5 L1471.1,2055.8 L1472.4,2053.0 L1473.7,2050.3 L1475.0,2047.6 L1476.3,2044.9 L1477.6,2042.2 L1478.9,2039.5 L1480.2,2036.8 L1481.5,2034.1 L1482.9,2031.4 L1484.2,2028.7 L1485.5,2026.0 L1486.8,2023.3 L1488.2,2020.6 L1489.5,2017.9 L1490.8,2015.2 L1492.2,2012.5 L1493.5,2009.8 L1494.9,2007.1 L1496.2,2004.4 L1497.6,2001.7 L1499.0,1999.1 L1500.3,1996.4 L1501.7,1993.7 L1503.1,1991.0 L1504.5,1988.3 L1505.9,1985.7 L1507.3,1983.0 L1508.7,1980.3 L1510.1,1977.7 L1511.5,1975.0 L1512.9,1972.4 L1514.4,1969.7 L1515.8,1967.1 L1517.3,1964.4 L1518.7,1961.8 L1520.2,1959.1 L1521.7,1956.5 L1523.1,1953.9 L1524.6,1951.2 L1526.2,1948.6 L1527.7,1946.0 L1529.2,1943.4 L1530.8,1940.9 L1532.4,1938.3 L1534.0,1935.8 L1535.7,1933.3 L1537.3,1930.8 L1539.1,1928.3 L1540.8,1925.9 L1542.6,1923.5 L1544.4,1921.1 L1546.3,1918.8 L1548.2,1916.5 L1550.1,1914.2 L1552.1,1912.0 L1554.2,1909.8 L1556.3,1907.7 L1558.4,1905.6 L1560.6,1903.5 L1562.9,1901.6 L1565.2,1899.6 L1567.6,1897.7 L1570.1,1895.9 L1572.6,1894.1 L1575.2,1892.4 L1577.8,1890.8 L1580.5,1889.4 L1583.2,1888.2 L1586.0,1887.2 L1588.7,1886.4 L1591.5,1886.0 L1594.2,1885.9 L1597.0,1886.2 L1599.7,1886.8 L1602.3,1887.7 L1604.9,1888.9 L1607.4,1890.4 L1609.8,1892.2 L1612.1,1894.1 L1614.4,1896.2 L1616.6,1898.5 L1618.6,1900.9 L1620.7,1903.3 L1622.6,1905.8 L1624.4,1908.3 L1626.2,1910.8 L1628.0,1913.4 L1629.7,1915.9 L1631.4,1918.5 L1633.1,1921.1 L1634.8,1923.6 L1636.4,1926.2 L1638.2,1928.7 L1639.9,1931.2 L1641.6,1933.7 L1643.4,1936.1 L1645.2,1938.6 L1646.9,1941.0 L1648.7,1943.4 L1650.5,1945.8 L1652.3,1948.2 L1654.2,1950.6 L1656.0,1953.0 L1657.8,1955.3 L1659.6,1957.7 L1661.5,1960.1 L1663.3,1962.4 L1665.1,1964.8 L1666.9,1967.1 L1668.8,1969.5 L1670.6,1971.9 L1672.4,1974.3 L1674.2,1976.6 L1676.0,1979.0 L1677.8,1981.4 L1679.6,1983.8 L1681.4,1986.2 L1683.2,1988.6 L1685.0,1991.0 L1686.8,1993.4 L1688.6,1995.8 L1690.3,1998.2 L1692.1,2000.6 L1693.9,2003.0 L1695.7,2005.5 L1697.4,2007.9 L1699.2,2010.3 L1701.0,2012.7 L1702.7,2015.2 L1704.5,2017.6 L1706.2,2020.0 L1708.0,2022.5 L1709.8,2024.9 L1711.5,2027.3 L1713.3,2029.8 L1715.0,2032.2 L1716.8,2034.7 L1718.5,2037.1 L1720.3,2039.5 L1722.0,2042.0 L1723.8,2044.4 L1725.5,2046.9 L1727.2,2049.3 L1729.0,2051.8 L1730.7,2054.2 L1732.5,2056.7 L1734.2,2059.1 L1736.0,2061.6 L1737.7,2064.0 L1739.5,2066.5 L1741.2,2068.9 L1743.0,2071.4 L1744.7,2073.8 L1746.5,2076.3 L1748.2,2078.7 L1750.0,2081.2 L1751.7,2083.6 L1753.5,2086.1 L1755.2,2088.5 L1757.0,2090.9 L1758.7,2093.4 L1760.5,2095.8 L1762.3,2098.3 L1764.0,2100.7 L1765.8,2103.1 L1767.5,2105.6 L1769.3,2108.0 L1771.1,2110.4 L1772.9,2112.8 L1774.6,2115.3 L1776.4,2117.7 L1778.2,2120.1 L1780.0,2122.5 L1781.8,2124.9 L1783.6,2127.3 L1785.4,2129.7 L1787.2,2132.1 L1789.0,2134.5 L1790.8,2136.9 L1792.6,2139.3 L1794.4,2141.7 L1796.2,2144.1 L1798.1,2146.5 L1799.9,2148.8 L1801.7,2151.2 L1803.6,2153.6 L1805.4,2155.9 L1807.3,2158.3 L1809.1,2160.6 L1811.0,2163.0 L1812.8,2165.3 L1814.7,2167.7 L1816.6,2170.0" fill="none" stroke="#000" stroke-width="3" stroke-linejoin="round" stroke-dasharray="15 13"/></g>
<g><rect x="390.5" y="3054.5" width="1609.0" height="1157.5" fill="none" stroke="#000" stroke-width="5"/><line x1="369.0" y1="3054.5" x2="390.5" y2="3054.5" stroke="#000" stroke-width="5"/><line x1="350.0" y1="3118.8" x2="390.5" y2="3118.8" stroke="#000" stroke-width="5"/><text x="323.4" y="3147.3" font-size="96.5" text-anchor="end">4</text><line x1="369.0" y1="3183.1" x2="390.5" y2="3183.1" stroke="#000" stroke-width="5"/><line x1="350.0" y1="3247.4" x2="390.5" y2="3247.4" stroke="#000" stroke-width="5"/><text x="323.4" y="3275.9" font-size="96.5" text-anchor="end">3</text><line x1="369.0" y1="3311.7" x2="390.5" y2="3311.7" stroke="#000" stroke-width="5"/><line x1="350.0" y1="3376.0" x2="390.5" y2="3376.0" stroke="#000" stroke-width="5"/><text x="323.4" y="3404.5" font-size="96.5" text-anchor="end">2</text><line x1="369.0" y1="3440.3" x2="390.5" y2="3440.3" stroke="#000" stroke-width="5"/><line x1="350.0" y1="3504.6" x2="390.5" y2="3504.6" stroke="#000" stroke-width="5"/><text x="323.4" y="3533.1" font-size="96.5" text-anchor="end">1</text><line x1="369.0" y1="3568.9" x2="390.5" y2="3568.9" stroke="#000" stroke-width="5"/><line x1="350.0" y1="3633.2" x2="390.5" y2="3633.2" stroke="#000" stroke-width="5"/><text x="323.4" y="3661.8" font-size="96.5" text-anchor="end">0</text><line x1="369.0" y1="3697.6" x2="390.5" y2="3697.6" stroke="#000" stroke-width="5"/><line x1="350.0" y1="3761.9" x2="390.5" y2="3761.9" stroke="#000" stroke-width="5"/><text x="323.4" y="3790.4" font-size="96.5" text-anchor="end">-1</text><line x1="369.0" y1="3826.2" x2="390.5" y2="3826.2" stroke="#000" stroke-width="5"/><line x1="350.0" y1="3890.5" x2="390.5" y2="3890.5" stroke="#000" stroke-width="5"/><text x="323.4" y="3919.0" font-size="96.5" text-anchor="end">-2</text><line x1="369.0" y1="3954.8" x2="390.5" y2="3954.8" stroke="#000" stroke-width="5"/><line x1="350.0" y1="4019.1" x2="390.5" y2="4019.1" stroke="#000" stroke-width="5"/><text x="323.4" y="4047.6" font-size="96.5" text-anchor="end">-3</text><line x1="369.0" y1="4083.4" x2="390.5" y2="4083.4" stroke="#000" stroke-width="5"/><line x1="350.0" y1="4147.7" x2="390.5" y2="4147.7" stroke="#000" stroke-width="5"/><text x="323.4" y="4176.2" font-size="96.5" text-anchor="end">-4</text><line x1="369.0" y1="4212.0" x2="390.5" y2="4212.0" stroke="#000" stroke-width="5"/><line x1="390.5" y1="4212.0" x2="390.5" y2="4250.5" stroke="#000" stroke-width="5"/><text x="389.3" y="4351.5" font-size="96.5" text-anchor="middle">-30</text><line x1="491.1" y1="4212.0" x2="491.1" y2="4229.8" stroke="#000" stroke-width="5"/><line x1="591.6" y1="4212.0" x2="591.6" y2="4250.5" stroke="#000" stroke-width="5"/><text x="590.4" y="4351.5" font-size="96.5" text-anchor="middle">-25</text><line x1="692.2" y1="4212.0" x2="692.2" y2="4229.8" stroke="#000" stroke-width="5"/><line x1="792.8" y1="4212.0" x2="792.8" y2="4250.5" stroke="#000" stroke-width="5"/><text x="791.5" y="4351.5" font-size="96.5" text-anchor="middle">-20</text><line x1="893.3" y1="4212.0" x2="893.3" y2="4229.8" stroke="#000" stroke-width="5"/><line x1="993.9" y1="4212.0" x2="993.9" y2="4250.5" stroke="#000" stroke-width="5"/><text x="992.7" y="4351.5" font-size="96.5" text-anchor="middle">-15</text><line x1="1094.4" y1="4212.0" x2="1094.4" y2="4229.8" stroke="#000" stroke-width="5"/><line x1="1195.0" y1="4212.0" x2="1195.0" y2="4250.5" stroke="#000" stroke-width="5"/><text x="1193.8" y="4351.5" font-size="96.5" text-anchor="middle">-10</text><line x1="1295.6" y1="4212.0" x2="1295.6" y2="4229.8" stroke="#000" stroke-width="5"/><line x1="1396.1" y1="4212.0" x2="1396.1" y2="4250.5" stroke="#000" stroke-width="5"/><text x="1394.9" y="4351.5" font-size="96.5" text-anchor="middle">-5</text><line x1="1496.7" y1="4212.0" x2="1496.7" y2="4229.8" stroke="#000" stroke-width="5"/><line x1="1597.2" y1="4212.0" x2="1597.2" y2="4250.5" stroke="#000" stroke-width="5"/><text x="1596.0" y="4351.5" font-size="96.5" text-anchor="middle">0</text><line x1="1697.8" y1="4212.0" x2="1697.8" y2="4229.8" stroke="#000" stroke-width="5"/><line x1="1798.4" y1="4212.0" x2="1798.4" y2="4250.5" stroke="#000" stroke-width="5"/><text x="1797.2" y="4351.5" font-size="96.5" text-anchor="middle">5</text><line x1="1898.9" y1="4212.0" x2="1898.9" y2="4229.8" stroke="#000" stroke-width="5"/><line x1="1999.5" y1="4212.0" x2="1999.5" y2="4250.5" stroke="#000" stroke-width="5"/><text x="1998.3" y="4351.5" font-size="96.5" text-anchor="middle">10</text><text x="1977.2" y="3152.3" font-size="92.3" text-anchor="end">MCT</text><rect x="1025.0" y="4347.6" width="100.0" height="122.4" fill="#fff"/><text transform="translate(1057.0,4437.0) scale(1.200,1)" x="0" y="0" font-size="107.0" font-weight="bold" font-style="italic">&#x3D5;</text><text x="1129.0" y="4466.1" font-size="61.0" font-weight="bold">gr</text><text x="1229.0" y="4429.4" font-size="95.0">(&#176;)</text><g transform="translate(124.5,3807.0) rotate(-90)"><text x="0" y="0" font-size="92.0"><tspan font-style="italic">T</tspan><tspan font-size="58.0" dy="30.7" dx="-5.2">t</tspan><tspan dy="-30.7" dx="14.6">(N&#183;m)</tspan></text></g><rect x="1220.5" y="3839.0" width="571.7" height="352.2" fill="#fff" stroke="#000" stroke-width="5.0"/><line x1="1236.3" y1="3906.8" x2="1402.8" y2="3906.8" stroke="#000" stroke-width="5.0" stroke-dasharray="5 21.9" stroke-linecap="round"/><text x="1455.1" y="3938.1" font-size="78.0">3</text><text x="1550.7" y="3938.1" font-size="78.0">m<tspan font-size="48.0" dy="-37.0">3</tspan><tspan dy="37.0">/min</tspan></text><line x1="1236.3" y1="4023.7" x2="1412.5" y2="4023.7" stroke="#000" stroke-width="5.0" stroke-linecap="round"/><text x="1455.5" y="4054.1" font-size="78.0">6</text><text x="1550.7" y="4054.1" font-size="78.0">m<tspan font-size="48.0" dy="-37.0">3</tspan><tspan dy="37.0">/min</tspan></text><line x1="1236.3" y1="4140.9" x2="1392.3" y2="4140.9" stroke="#000" stroke-width="5.0" stroke-dasharray="21 24" stroke-linecap="round"/><text x="1458.3" y="4173.4" font-size="78.0">12</text><text x="1550.7" y="4173.4" font-size="78.0">m<tspan font-size="48.0" dy="-37.0">3</tspan><tspan dy="37.0">/min</tspan></text><path d="M503.8,3785.7 L506.6,3784.2 L509.5,3782.8 L512.3,3781.5 L515.2,3780.3 L518.0,3779.3 L520.9,3778.4 L523.8,3777.7 L526.7,3777.0 L529.7,3776.5 L532.6,3776.0 L535.5,3775.6 L538.5,3775.4 L541.4,3775.2 L544.4,3775.1 L547.4,3775.1 L550.3,3775.1 L553.3,3775.2 L556.3,3775.4 L559.3,3775.6 L562.3,3775.9 L565.3,3776.2 L568.3,3776.6 L571.3,3777.0 L574.2,3777.4 L577.2,3777.9 L580.2,3778.3 L583.2,3778.8 L586.2,3779.3 L589.2,3779.8 L592.1,3780.3 L595.1,3780.8 L598.1,3781.4 L601.1,3781.9 L604.0,3782.4 L607.0,3783.0 L609.9,3783.6 L612.9,3784.1 L615.9,3784.7 L618.8,3785.3 L621.8,3785.8 L624.7,3786.4 L627.7,3787.0 L630.6,3787.6 L633.6,3788.2 L636.5,3788.9 L639.4,3789.5 L642.4,3790.1 L645.3,3790.7 L648.3,3791.4 L651.2,3792.0 L654.2,3792.6 L657.1,3793.3 L660.0,3793.9 L663.0,3794.6 L665.9,3795.2 L668.8,3795.9 L671.8,3796.6 L674.7,3797.2 L677.7,3797.9 L680.6,3798.6 L683.5,3799.2 L686.5,3799.9 L689.4,3800.6 L692.3,3801.3 L695.2,3802.0 L698.2,3802.7 L701.1,3803.4 L704.0,3804.2 L706.9,3804.9 L709.9,3805.6 L712.8,3806.3 L715.7,3807.1 L718.6,3807.8 L721.5,3808.6 L724.4,3809.3 L727.4,3810.1 L730.3,3810.9 L733.2,3811.6 L736.1,3812.4 L739.0,3813.2 L741.8,3814.0 L744.7,3814.8 L747.6,3815.6 L750.5,3816.5 L753.4,3817.3 L756.3,3818.2 L759.1,3819.1 L762.0,3819.9 L764.9,3820.9 L767.7,3821.8 L770.6,3822.7 L773.4,3823.7 L776.2,3824.7 L779.1,3825.7 L781.9,3826.8 L784.7,3827.9 L787.5,3829.0 L790.3,3830.1 L793.1,3831.3 L795.9,3832.5 L798.7,3833.7 L801.4,3834.9 L804.2,3836.1 L807.0,3837.3 L809.8,3838.5 L812.6,3839.8 L815.3,3841.0 L818.1,3842.2 L820.9,3843.4 L823.7,3844.5 L826.5,3845.7 L829.4,3846.8 L832.2,3847.9 L835.0,3848.9 L837.9,3849.9 L840.7,3850.9 L843.6,3851.8 L846.5,3852.7 L849.4,3853.5 L852.3,3854.3 L855.3,3855.0 L858.2,3855.7 L861.2,3856.3 L864.1,3856.9 L867.1,3857.4 L870.0,3857.8 L873.0,3858.2 L876.0,3858.6 L879.0,3858.9 L881.9,3859.1 L884.9,3859.2 L887.9,3859.3 L890.9,3859.4 L893.9,3859.4 L896.9,3859.3 L899.8,3859.1 L902.8,3858.9 L905.8,3858.6 L908.7,3858.3 L911.7,3857.9 L914.6,3857.4 L917.6,3856.8 L920.5,3856.2 L923.4,3855.5 L926.3,3854.8 L929.2,3854.0 L932.1,3853.2 L935.0,3852.4 L937.9,3851.5 L940.8,3850.7 L943.7,3849.8 L946.6,3848.9 L949.5,3848.1 L952.4,3847.2 L955.3,3846.3 L958.2,3845.5 L961.1,3844.6 L963.9,3843.7 L966.8,3842.9 L969.7,3842.0 L972.6,3841.1 L975.5,3840.3 L978.4,3839.4 L981.2,3838.5 L984.1,3837.6 L987.0,3836.7 L989.9,3835.9 L992.7,3835.0 L995.6,3834.1 L998.5,3833.1 L1001.3,3832.2 L1004.2,3831.3 L1007.0,3830.4 L1009.9,3829.4 L1012.8,3828.5 L1015.6,3827.5 L1018.5,3826.6 L1021.3,3825.6 L1024.2,3824.6 L1027.0,3823.7 L1029.9,3822.7 L1032.7,3821.7 L1035.5,3820.7 L1038.4,3819.6 L1041.2,3818.6 L1044.1,3817.6 L1046.9,3816.6 L1049.7,3815.6 L1052.6,3814.5 L1055.4,3813.5 L1058.2,3812.5 L1061.1,3811.4 L1063.9,3810.4 L1066.7,3809.4 L1069.6,3808.4 L1072.4,3807.3 L1075.2,3806.3 L1078.1,3805.3 L1080.9,3804.3 L1083.8,3803.2 L1086.6,3802.2 L1089.4,3801.2 L1092.3,3800.2 L1095.1,3799.2 L1098.0,3798.3 L1100.8,3797.3 L1103.7,3796.3 L1106.5,3795.3 L1109.4,3794.4 L1112.2,3793.5 L1115.1,3792.5 L1117.9,3791.6 L1120.8,3790.7 L1123.7,3789.8 L1126.6,3788.9 L1129.4,3788.1 L1132.3,3787.2 L1135.2,3786.4 L1138.1,3785.5 L1141.0,3784.7 L1143.8,3783.9 L1146.7,3783.2 L1149.6,3782.4 L1152.5,3781.7 L1155.5,3780.9 L1158.4,3780.2 L1161.3,3779.6 L1164.2,3778.9 L1167.1,3778.3 L1170.1,3777.6 L1173.0,3777.1 L1176.0,3776.5 L1178.9,3775.9 L1181.9,3775.4 L1184.8,3774.8 L1187.8,3774.3 L1190.7,3773.8 L1193.7,3773.3 L1196.7,3772.8 L1199.6,3772.3 L1202.6,3771.8 L1205.6,3771.3 L1208.5,3770.8 L1211.5,3770.3 L1214.5,3769.8 L1217.5,3769.3 L1220.4,3768.8 L1223.4,3768.3 L1226.4,3767.8 L1229.3,3767.2 L1232.3,3766.7 L1235.2,3766.1 L1238.2,3765.5 L1241.1,3764.9 L1244.1,3764.3 L1247.0,3763.7 L1250.0,3763.0 L1252.9,3762.3 L1255.8,3761.6 L1258.8,3760.9 L1261.7,3760.2 L1264.6,3759.4 L1267.6,3758.7 L1270.5,3758.0 L1273.4,3757.2 L1276.3,3756.5 L1279.2,3755.8 L1282.2,3755.0 L1285.1,3754.3 L1288.0,3753.6 L1290.9,3752.9 L1293.9,3752.3 L1296.8,3751.6 L1299.7,3751.0 L1302.7,3750.4 L1305.6,3749.8 L1308.5,3749.3 L1311.5,3748.8 L1314.4,3748.3 L1317.4,3747.8 L1320.4,3747.4 L1323.3,3747.1 L1326.3,3746.7 L1329.3,3746.5 L1332.3,3746.2 L1335.2,3746.0 L1338.2,3745.9 L1341.2,3745.7 L1344.2,3745.6 L1347.2,3745.6 L1350.2,3745.6 L1353.2,3745.6 L1356.3,3745.6 L1359.3,3745.7 L1362.3,3745.8 L1365.3,3746.0 L1368.3,3746.1 L1371.3,3746.4 L1374.4,3746.6 L1377.4,3746.8 L1380.4,3747.1 L1383.4,3747.4 L1386.4,3747.8 L1389.4,3748.1 L1392.4,3748.5 L1395.5,3748.9 L1398.5,3749.3 L1401.5,3749.8 L1404.5,3750.2 L1407.5,3750.7 L1410.5,3751.2 L1413.5,3751.7 L1416.4,3752.1 L1419.4,3752.6 L1422.4,3753.1 L1425.4,3753.6 L1428.4,3754.0 L1431.3,3754.4 L1434.3,3754.8 L1437.3,3755.2 L1440.3,3755.5 L1443.2,3755.8 L1446.2,3756.1 L1449.1,3756.3 L1452.1,3756.4 L1455.0,3756.5 L1458.0,3756.5 L1460.9,3756.5 L1463.9,3756.4 L1466.8,3756.2 L1469.7,3755.9 L1472.7,3755.5 L1475.6,3755.1 L1478.5,3754.6 L1481.4,3754.0 L1484.4,3753.4 L1487.3,3752.7 L1490.2,3751.9 L1493.1,3751.1 L1496.0,3750.3 L1499.0,3749.4 L1501.9,3748.5 L1504.8,3747.5 L1507.7,3746.6 L1510.6,3745.6 L1513.5,3744.6 L1516.4,3743.6 L1519.4,3742.7 L1522.3,3741.7 L1525.2,3740.7 L1528.1,3739.8 L1531.1,3738.9 L1534.0,3738.0 L1536.9,3737.2 L1539.8,3736.4 L1542.8,3735.6 L1545.7,3734.9 L1548.7,3734.3 L1551.6,3733.8 L1554.6,3733.3 L1557.5,3732.8 L1560.5,3732.5 L1563.4,3732.2 L1566.4,3731.9 L1569.4,3731.7 L1572.3,3731.6 L1575.3,3731.5 L1578.3,3731.5 L1581.2,3731.5 L1584.2,3731.6 L1587.2,3731.8 L1590.2,3731.9 L1593.1,3732.2 L1596.1,3732.4 L1599.1,3732.7 L1602.0,3733.1 L1605.0,3733.5 L1608.0,3733.9 L1610.9,3734.4 L1613.9,3734.9 L1616.8,3735.4 L1619.8,3735.9 L1622.7,3736.5 L1625.7,3737.1 L1628.6,3737.8 L1631.6,3738.4 L1634.5,3739.1 L1637.4,3739.8 L1640.3,3740.5 L1643.2,3741.3 L1646.2,3742.0 L1649.1,3742.8 L1652.0,3743.6 L1654.9,3744.4 L1657.8,3745.2 L1660.7,3746.0 L1663.6,3746.9 L1666.5,3747.7 L1669.4,3748.6 L1672.2,3749.4 L1675.1,3750.3 L1678.0,3751.2 L1680.9,3752.1 L1683.8,3753.0 L1686.7,3753.9 L1689.6,3754.8 L1692.4,3755.7 L1695.3,3756.6 L1698.2,3757.5 L1701.1,3758.4 L1704.0,3759.2 L1706.9,3760.1 L1709.7,3761.0 L1712.6,3761.9 L1715.5,3762.7 L1718.4,3763.6 L1721.3,3764.5 L1724.2,3765.3 L1727.1,3766.1 L1730.0,3766.9 L1732.9,3767.7 L1735.8,3768.5 L1738.7,3769.3 L1741.6,3770.0 L1744.5,3770.8 L1747.5,3771.5 L1750.4,3772.2 L1753.3,3772.8 L1756.2,3773.5 L1759.2,3774.1 L1762.1,3774.7 L1765.1,3775.3 L1768.0,3775.9 L1771.0,3776.5 L1773.9,3777.0 L1776.9,3777.6 L1779.8,3778.2 L1782.8,3778.8 L1785.7,3779.4 L1788.7,3780.0 L1791.6,3780.6 L1794.6,3781.2 L1797.5,3781.9 L1800.4,3782.6 L1803.4,3783.3 L1806.3,3784.1 L1809.2,3784.9 L1812.1,3785.7 L1815.0,3786.6" fill="none" stroke="#000" stroke-width="5" stroke-linejoin="round" stroke-dasharray="4 21.8" stroke-linecap="round"/><path d="M501.4,3716.0 L503.2,3713.6 L504.8,3711.1 L506.4,3708.6 L507.8,3706.0 L509.3,3703.4 L510.6,3700.8 L511.9,3698.1 L513.2,3695.5 L514.5,3692.8 L515.8,3690.0 L517.1,3687.3 L518.4,3684.5 L519.8,3681.8 L521.2,3679.0 L522.6,3676.3 L524.1,3673.5 L525.7,3670.8 L527.4,3668.1 L529.1,3665.5 L531.0,3662.9 L532.8,3660.5 L534.8,3658.2 L536.9,3656.0 L539.0,3654.0 L541.3,3652.2 L543.6,3650.6 L546.0,3649.1 L548.6,3648.0 L551.2,3647.0 L553.8,3646.3 L556.6,3645.7 L559.4,3645.3 L562.3,3645.1 L565.2,3645.0 L568.2,3645.0 L571.2,3645.2 L574.2,3645.5 L577.3,3645.8 L580.4,3646.3 L583.4,3646.8 L586.5,3647.3 L589.6,3647.9 L592.7,3648.5 L595.7,3649.2 L598.7,3649.8 L601.7,3650.5 L604.7,3651.2 L607.7,3651.9 L610.7,3652.6 L613.7,3653.3 L616.6,3654.0 L619.5,3654.8 L622.5,3655.5 L625.4,3656.3 L628.3,3657.0 L631.2,3657.8 L634.1,3658.6 L637.0,3659.4 L639.8,3660.2 L642.7,3661.0 L645.6,3661.9 L648.4,3662.7 L651.3,3663.5 L654.1,3664.4 L657.0,3665.2 L659.8,3666.1 L662.7,3666.9 L665.5,3667.8 L668.4,3668.6 L671.2,3669.5 L674.1,3670.3 L676.9,3671.2 L679.8,3672.1 L682.6,3672.9 L685.5,3673.8 L688.3,3674.7 L691.2,3675.5 L694.1,3676.4 L697.0,3677.2 L699.8,3678.1 L702.7,3679.0 L705.6,3679.8 L708.5,3680.7 L711.4,3681.6 L714.3,3682.4 L717.2,3683.3 L720.1,3684.2 L723.0,3685.1 L725.9,3686.0 L728.7,3687.0 L731.6,3687.9 L734.5,3688.9 L737.4,3689.8 L740.2,3690.8 L743.1,3691.8 L745.9,3692.9 L748.7,3693.9 L751.5,3695.0 L754.4,3696.1 L757.1,3697.3 L759.9,3698.4 L762.7,3699.6 L765.4,3700.8 L768.2,3702.1 L770.9,3703.4 L773.6,3704.7 L776.3,3706.0 L778.9,3707.4 L781.6,3708.7 L784.3,3710.1 L786.9,3711.5 L789.6,3713.0 L792.2,3714.4 L794.8,3715.8 L797.5,3717.2 L800.1,3718.6 L802.8,3720.0 L805.4,3721.4 L808.1,3722.7 L810.7,3724.1 L813.4,3725.4 L816.1,3726.7 L818.8,3728.0 L821.5,3729.2 L824.3,3730.4 L827.0,3731.5 L829.8,3732.6 L832.6,3733.7 L835.4,3734.7 L838.3,3735.6 L841.1,3736.5 L844.0,3737.4 L846.9,3738.2 L849.8,3739.0 L852.8,3739.8 L855.7,3740.5 L858.7,3741.2 L861.7,3741.8 L864.6,3742.5 L867.6,3743.1 L870.6,3743.7 L873.6,3744.3 L876.6,3744.8 L879.6,3745.4 L882.6,3745.9 L885.7,3746.3 L888.7,3746.7 L891.7,3747.1 L894.7,3747.3 L897.7,3747.5 L900.6,3747.6 L903.6,3747.5 L906.6,3747.4 L909.5,3747.1 L912.5,3746.8 L915.4,3746.3 L918.3,3745.8 L921.2,3745.2 L924.2,3744.6 L927.1,3743.9 L930.0,3743.1 L932.9,3742.3 L935.8,3741.5 L938.7,3740.6 L941.6,3739.7 L944.5,3738.8 L947.4,3737.9 L950.3,3737.0 L953.2,3736.1 L956.1,3735.2 L959.0,3734.3 L961.9,3733.5 L964.8,3732.7 L967.7,3731.9 L970.6,3731.2 L973.5,3730.5 L976.5,3729.8 L979.4,3729.1 L982.3,3728.5 L985.2,3727.8 L988.2,3727.2 L991.1,3726.5 L994.0,3725.9 L996.9,3725.2 L999.8,3724.5 L1002.8,3723.8 L1005.7,3723.1 L1008.6,3722.4 L1011.5,3721.6 L1014.4,3720.8 L1017.3,3720.1 L1020.2,3719.3 L1023.1,3718.5 L1026.0,3717.6 L1028.9,3716.8 L1031.7,3715.9 L1034.6,3715.1 L1037.5,3714.2 L1040.4,3713.4 L1043.3,3712.5 L1046.2,3711.6 L1049.0,3710.7 L1051.9,3709.8 L1054.8,3708.9 L1057.7,3708.0 L1060.6,3707.1 L1063.4,3706.2 L1066.3,3705.3 L1069.2,3704.4 L1072.1,3703.5 L1075.0,3702.6 L1077.8,3701.8 L1080.7,3700.9 L1083.6,3700.0 L1086.5,3699.1 L1089.4,3698.3 L1092.3,3697.4 L1095.2,3696.6 L1098.1,3695.7 L1101.0,3694.9 L1103.9,3694.1 L1106.8,3693.3 L1109.7,3692.5 L1112.6,3691.7 L1115.5,3691.0 L1118.4,3690.3 L1121.3,3689.5 L1124.2,3688.8 L1127.2,3688.2 L1130.1,3687.5 L1133.0,3686.9 L1136.0,3686.3 L1138.9,3685.7 L1141.8,3685.1 L1144.8,3684.5 L1147.7,3684.0 L1150.7,3683.4 L1153.7,3682.9 L1156.6,3682.4 L1159.6,3681.9 L1162.5,3681.5 L1165.5,3681.0 L1168.5,3680.6 L1171.5,3680.1 L1174.4,3679.7 L1177.4,3679.3 L1180.4,3678.9 L1183.4,3678.5 L1186.4,3678.2 L1189.3,3677.8 L1192.3,3677.4 L1195.3,3677.1 L1198.3,3676.7 L1201.3,3676.4 L1204.3,3676.1 L1207.3,3675.7 L1210.2,3675.4 L1213.2,3675.1 L1216.2,3674.7 L1219.2,3674.4 L1222.2,3674.0 L1225.2,3673.7 L1228.2,3673.3 L1231.1,3672.9 L1234.1,3672.4 L1237.1,3672.0 L1240.1,3671.5 L1243.0,3671.0 L1246.0,3670.5 L1249.0,3670.0 L1251.9,3669.4 L1254.9,3668.7 L1257.8,3668.1 L1260.8,3667.4 L1263.7,3666.7 L1266.7,3666.1 L1269.6,3665.4 L1272.5,3664.7 L1275.5,3664.0 L1278.4,3663.4 L1281.4,3662.8 L1284.3,3662.3 L1287.3,3661.8 L1290.3,3661.3 L1293.2,3660.9 L1296.2,3660.6 L1299.2,3660.4 L1302.2,3660.2 L1305.2,3660.1 L1308.2,3660.0 L1311.2,3660.0 L1314.2,3660.0 L1317.2,3660.1 L1320.2,3660.1 L1323.2,3660.2 L1326.2,3660.4 L1329.2,3660.5 L1332.2,3660.6 L1335.3,3660.7 L1338.3,3660.8 L1341.3,3660.9 L1344.3,3660.9 L1347.3,3660.9 L1350.3,3660.9 L1353.4,3660.9 L1356.4,3660.9 L1359.4,3660.9 L1362.4,3661.0 L1365.4,3661.0 L1368.4,3661.2 L1371.4,3661.3 L1374.3,3661.6 L1377.3,3661.9 L1380.3,3662.3 L1383.3,3662.7 L1386.2,3663.2 L1389.2,3663.8 L1392.1,3664.5 L1395.1,3665.2 L1398.0,3665.9 L1401.0,3666.7 L1403.9,3667.4 L1406.8,3668.3 L1409.8,3669.1 L1412.7,3669.9 L1415.6,3670.7 L1418.6,3671.5 L1421.5,3672.3 L1424.4,3673.1 L1427.4,3673.8 L1430.3,3674.5 L1433.2,3675.2 L1436.2,3675.8 L1439.1,3676.4 L1442.1,3676.9 L1445.0,3677.3 L1447.9,3677.6 L1450.9,3677.9 L1453.8,3678.0 L1456.8,3678.1 L1459.8,3678.1 L1462.7,3677.9 L1465.7,3677.7 L1468.6,3677.4 L1471.5,3676.9 L1474.5,3676.4 L1477.4,3675.9 L1480.2,3675.2 L1483.1,3674.6 L1486.0,3673.9 L1488.9,3673.1 L1491.7,3672.4 L1494.6,3671.6 L1497.4,3670.8 L1500.3,3670.0 L1503.2,3669.2 L1506.0,3668.3 L1508.9,3667.4 L1511.8,3666.5 L1514.7,3665.5 L1517.6,3664.6 L1520.6,3663.7 L1523.5,3662.7 L1526.4,3661.8 L1529.4,3660.8 L1532.3,3659.9 L1535.2,3659.0 L1538.2,3658.1 L1541.1,3657.3 L1544.1,3656.4 L1547.1,3655.6 L1550.0,3654.9 L1553.0,3654.1 L1555.9,3653.4 L1558.9,3652.8 L1561.9,3652.2 L1564.8,3651.7 L1567.8,3651.2 L1570.7,3650.8 L1573.7,3650.5 L1576.6,3650.2 L1579.6,3650.0 L1582.5,3649.9 L1585.5,3649.9 L1588.4,3650.0 L1591.3,3650.1 L1594.3,3650.4 L1597.2,3650.7 L1600.1,3651.1 L1603.0,3651.6 L1605.9,3652.1 L1608.8,3652.7 L1611.7,3653.4 L1614.6,3654.1 L1617.5,3654.9 L1620.4,3655.7 L1623.3,3656.5 L1626.2,3657.4 L1629.0,3658.3 L1631.9,3659.3 L1634.8,3660.2 L1637.7,3661.2 L1640.5,3662.2 L1643.4,3663.3 L1646.2,3664.3 L1649.1,3665.3 L1652.0,3666.3 L1654.8,3667.4 L1657.7,3668.4 L1660.5,3669.4 L1663.4,3670.4 L1666.2,3671.4 L1669.1,3672.4 L1671.9,3673.3 L1674.8,3674.3 L1677.6,3675.3 L1680.5,3676.2 L1683.3,3677.2 L1686.2,3678.1 L1689.0,3679.1 L1691.9,3680.0 L1694.7,3680.9 L1697.6,3681.8 L1700.4,3682.8 L1703.3,3683.7 L1706.1,3684.6 L1709.0,3685.5 L1711.8,3686.4 L1714.7,3687.3 L1717.5,3688.2 L1720.4,3689.1 L1723.2,3690.0 L1726.1,3690.9 L1729.0,3691.7 L1731.8,3692.6 L1734.7,3693.5 L1737.6,3694.4 L1740.5,3695.3 L1743.4,3696.1 L1746.2,3697.0 L1749.1,3697.9 L1752.0,3698.7 L1754.9,3699.6 L1757.8,3700.5 L1760.7,3701.3 L1763.6,3702.2 L1766.5,3703.0 L1769.4,3703.8 L1772.3,3704.6 L1775.2,3705.5 L1778.1,3706.3 L1781.0,3707.1 L1784.0,3707.8 L1786.9,3708.6 L1789.8,3709.4 L1792.7,3710.1 L1795.6,3710.9 L1798.5,3711.6 L1801.4,3712.3 L1804.4,3713.0 L1807.3,3713.7 L1810.2,3714.4 L1813.1,3715.0 L1816.0,3715.7 L1819.0,3716.3" fill="none" stroke="#000" stroke-width="5" stroke-linejoin="round"/><path d="M502.3,3412.9 L502.6,3409.9 L503.0,3406.9 L503.3,3404.0 L503.6,3401.0 L504.0,3398.0 L504.3,3395.0 L504.6,3392.0 L505.0,3389.1 L505.3,3386.1 L505.6,3383.1 L505.9,3380.1 L506.3,3377.1 L506.6,3374.1 L506.9,3371.1 L507.2,3368.1 L507.5,3365.1 L507.9,3362.2 L508.2,3359.2 L508.5,3356.2 L508.8,3353.2 L509.2,3350.2 L509.5,3347.2 L509.8,3344.2 L510.2,3341.2 L510.5,3338.2 L510.8,3335.2 L511.2,3332.2 L511.5,3329.2 L511.8,3326.2 L512.2,3323.2 L512.5,3320.2 L512.9,3317.2 L513.2,3314.2 L513.5,3311.2 L513.9,3308.2 L514.2,3305.2 L514.6,3302.2 L515.0,3299.2 L515.3,3296.2 L515.7,3293.2 L516.1,3290.2 L516.4,3287.2 L516.8,3284.2 L517.2,3281.2 L517.6,3278.2 L517.9,3275.3 L518.3,3272.3 L518.7,3269.3 L519.1,3266.3 L519.5,3263.3 L519.9,3260.3 L520.3,3257.4 L520.8,3254.4 L521.2,3251.4 L521.6,3248.5 L522.0,3245.5 L522.5,3242.5 L522.9,3239.6 L523.4,3236.6 L523.8,3233.6 L524.3,3230.7 L524.7,3227.7 L525.2,3224.8 L525.7,3221.8 L526.1,3218.9 L526.6,3215.9 L527.1,3213.0 L527.6,3210.1 L528.1,3207.1 L528.6,3204.2 L529.1,3201.2 L529.6,3198.3 L530.1,3195.3 L530.6,3192.4 L531.1,3189.4 L531.6,3186.5 L532.1,3183.5 L532.6,3180.5 L533.1,3177.6 L533.6,3174.6 L534.0,3171.6 L534.5,3168.6 L535.0,3165.6 L535.5,3162.6 L536.0,3159.6 L536.5,3156.6 L537.0,3153.6 L537.5,3150.6 L537.9,3147.5 L538.4,3144.5 L538.9,3141.5 L539.3,3138.4 L539.8,3135.3 L540.3,3132.3 L540.9,3129.3 L541.5,3126.2 L542.1,3123.2 L542.8,3120.2 L543.6,3117.3 L544.5,3114.4 L545.5,3111.5 L546.5,3108.6 L547.7,3105.8 L549.0,3103.1 L550.5,3100.4 L552.1,3097.8 L553.8,3095.3 L555.7,3093.0 L557.7,3091.0 L559.9,3089.2 L562.2,3087.7 L564.7,3086.6 L567.3,3085.8 L570.0,3085.5 L572.8,3085.4 L575.7,3085.6 L578.7,3086.1 L581.6,3086.7 L584.5,3087.6 L587.3,3088.5 L590.2,3089.6 L593.0,3090.8 L595.8,3092.1 L598.5,3093.4 L601.3,3094.8 L604.0,3096.2 L606.8,3097.6 L609.5,3099.0 L612.3,3100.4 L615.1,3101.7 L617.8,3103.0 L620.6,3104.4 L623.4,3105.7 L626.1,3107.0 L628.9,3108.3 L631.7,3109.5 L634.4,3110.8 L637.2,3112.1 L640.0,3113.4 L642.7,3114.6 L645.5,3115.9 L648.2,3117.2 L651.0,3118.4 L653.7,3119.7 L656.4,3121.0 L659.2,3122.3 L661.9,3123.6 L664.6,3124.8 L667.3,3126.2 L670.0,3127.5 L672.7,3128.8 L675.4,3130.1 L678.0,3131.5 L680.7,3132.9 L683.3,3134.3 L686.0,3135.7 L688.6,3137.1 L691.2,3138.5 L693.8,3140.0 L696.4,3141.5 L698.9,3143.0 L701.5,3144.5 L704.0,3146.0 L706.6,3147.6 L709.1,3149.1 L711.7,3150.7 L714.2,3152.3 L716.7,3153.9 L719.2,3155.5 L721.7,3157.1 L724.2,3158.7 L726.7,3160.4 L729.1,3162.0 L731.6,3163.7 L734.1,3165.4 L736.6,3167.1 L739.0,3168.8 L741.5,3170.5 L744.0,3172.2 L746.4,3173.9 L748.9,3175.6 L751.3,3177.4 L753.8,3179.1 L756.2,3180.9 L758.7,3182.6 L761.2,3184.4 L763.6,3186.1 L766.1,3187.9 L768.5,3189.7 L771.0,3191.4 L773.5,3193.2 L775.9,3195.0 L778.4,3196.8 L780.9,3198.5 L783.4,3200.3 L785.9,3202.1 L788.3,3203.8 L790.8,3205.6 L793.3,3207.3 L795.8,3209.1 L798.3,3210.8 L800.9,3212.5 L803.4,3214.2 L805.9,3215.9 L808.4,3217.6 L811.0,3219.3 L813.5,3220.9 L816.1,3222.6 L818.6,3224.2 L821.2,3225.8 L823.7,3227.4 L826.3,3229.0 L828.9,3230.5 L831.5,3232.0 L834.1,3233.5 L836.7,3235.0 L839.3,3236.4 L842.0,3237.9 L844.6,3239.2 L847.3,3240.6 L849.9,3241.9 L852.6,3243.2 L855.3,3244.5 L858.0,3245.8 L860.7,3247.0 L863.4,3248.1 L866.1,3249.3 L868.9,3250.4 L871.6,3251.4 L874.4,3252.5 L877.2,3253.4 L880.0,3254.4 L882.8,3255.3 L885.6,3256.2 L888.4,3257.0 L891.3,3257.7 L894.1,3258.5 L897.0,3259.1 L899.9,3259.8 L902.8,3260.3 L905.7,3260.9 L908.6,3261.4 L911.6,3261.8 L914.6,3262.2 L917.5,3262.5 L920.5,3262.7 L923.6,3263.0 L926.6,3263.1 L929.6,3263.2 L932.7,3263.2 L935.8,3263.2 L938.9,3263.2 L942.0,3263.1 L945.1,3262.9 L948.2,3262.8 L951.3,3262.6 L954.5,3262.4 L957.6,3262.3 L960.7,3262.1 L963.8,3261.9 L966.9,3261.7 L970.0,3261.5 L973.0,3261.4 L976.1,3261.3 L979.1,3261.2 L982.1,3261.2 L985.1,3261.1 L988.1,3261.1 L991.1,3261.2 L994.0,3261.2 L997.0,3261.3 L999.9,3261.3 L1002.9,3261.4 L1005.8,3261.4 L1008.7,3261.5 L1011.7,3261.5 L1014.6,3261.6 L1017.6,3261.6 L1020.5,3261.6 L1023.5,3261.6 L1026.5,3261.5 L1029.4,3261.5 L1032.4,3261.4 L1035.4,3261.3 L1038.4,3261.2 L1041.4,3261.1 L1044.4,3260.9 L1047.4,3260.8 L1050.5,3260.6 L1053.5,3260.5 L1056.5,3260.3 L1059.5,3260.1 L1062.6,3259.9 L1065.6,3259.7 L1068.6,3259.4 L1071.7,3259.2 L1074.7,3259.0 L1077.7,3258.8 L1080.7,3258.5 L1083.8,3258.3 L1086.8,3258.1 L1089.8,3257.8 L1092.9,3257.6 L1095.9,3257.4 L1098.9,3257.1 L1101.9,3256.9 L1104.9,3256.7 L1108.0,3256.5 L1111.0,3256.4 L1114.0,3256.2 L1117.0,3256.1 L1120.0,3256.0 L1123.0,3255.9 L1126.0,3255.8 L1129.0,3255.8 L1132.0,3255.8 L1135.0,3255.8 L1138.0,3255.9 L1141.0,3256.0 L1144.0,3256.1 L1146.9,3256.3 L1149.9,3256.5 L1152.9,3256.8 L1155.9,3257.1 L1158.9,3257.4 L1161.8,3257.8 L1164.8,3258.2 L1167.8,3258.6 L1170.7,3259.1 L1173.7,3259.6 L1176.6,3260.1 L1179.6,3260.7 L1182.6,3261.2 L1185.5,3261.8 L1188.5,3262.4 L1191.4,3263.0 L1194.4,3263.6 L1197.3,3264.2 L1200.3,3264.8 L1203.2,3265.4 L1206.2,3266.0 L1209.2,3266.6 L1212.1,3267.1 L1215.1,3267.7 L1218.0,3268.3 L1221.0,3268.8 L1224.0,3269.4 L1226.9,3269.9 L1229.9,3270.3 L1232.9,3270.8 L1235.8,3271.2 L1238.8,3271.6 L1241.8,3272.0 L1244.8,3272.4 L1247.7,3272.7 L1250.7,3273.0 L1253.7,3273.4 L1256.7,3273.7 L1259.7,3274.0 L1262.6,3274.3 L1265.6,3274.5 L1268.6,3274.8 L1271.6,3275.1 L1274.6,3275.4 L1277.6,3275.7 L1280.5,3276.0 L1283.5,3276.3 L1286.5,3276.6 L1289.5,3276.9 L1292.5,3277.2 L1295.4,3277.6 L1298.4,3278.0 L1301.4,3278.3 L1304.4,3278.8 L1307.3,3279.2 L1310.3,3279.7 L1313.3,3280.2 L1316.2,3280.7 L1319.2,3281.2 L1322.2,3281.8 L1325.1,3282.5 L1328.1,3283.1 L1331.0,3283.8 L1334.0,3284.5 L1336.9,3285.3 L1339.8,3286.1 L1342.7,3286.9 L1345.7,3287.7 L1348.6,3288.6 L1351.5,3289.4 L1354.4,3290.4 L1357.2,3291.3 L1360.1,3292.3 L1363.0,3293.3 L1365.8,3294.3 L1368.6,3295.3 L1371.5,3296.4 L1374.3,3297.5 L1377.0,3298.6 L1379.8,3299.7 L1382.6,3300.9 L1385.3,3302.0 L1388.1,3303.2 L1390.8,3304.4 L1393.5,3305.7 L1396.2,3306.9 L1398.9,3308.2 L1401.6,3309.4 L1404.3,3310.7 L1406.9,3312.0 L1409.6,3313.3 L1412.3,3314.6 L1415.0,3315.9 L1417.8,3317.2 L1420.5,3318.5 L1423.3,3319.8 L1426.0,3321.1 L1428.8,3322.5 L1431.6,3323.7 L1434.4,3325.0 L1437.3,3326.2 L1440.1,3327.3 L1443.0,3328.4 L1445.9,3329.3 L1448.8,3330.2 L1451.6,3331.0 L1454.5,3331.6 L1457.5,3332.2 L1460.4,3332.5 L1463.3,3332.7 L1466.2,3332.8 L1469.1,3332.6 L1472.0,3332.3 L1474.9,3331.8 L1477.8,3331.2 L1480.7,3330.5 L1483.6,3329.6 L1486.5,3328.7 L1489.4,3327.6 L1492.2,3326.5 L1495.1,3325.3 L1497.9,3324.1 L1500.8,3322.8 L1503.6,3321.6 L1506.4,3320.3 L1509.2,3319.1 L1511.9,3317.9 L1514.7,3316.7 L1517.4,3315.6 L1520.1,3314.5 L1522.8,3313.4 L1525.5,3312.3 L1528.3,3311.2 L1531.0,3310.1 L1533.8,3308.9 L1536.6,3307.8 L1539.4,3306.6 L1542.2,3305.4 L1545.0,3304.2 L1547.9,3303.0 L1550.8,3301.9 L1553.7,3300.8 L1556.6,3299.7 L1559.5,3298.7 L1562.5,3297.8 L1565.4,3297.0 L1568.4,3296.3 L1571.3,3295.8 L1574.3,3295.3 L1577.2,3295.0 L1580.2,3294.8 L1583.1,3294.8 L1586.1,3294.9 L1589.0,3295.2 L1591.9,3295.5 L1594.9,3296.0 L1597.8,3296.6 L1600.7,3297.3 L1603.6,3298.1 L1606.4,3298.9 L1609.3,3299.8 L1612.1,3300.8 L1614.9,3301.9 L1617.7,3303.0 L1620.5,3304.2 L1623.2,3305.4 L1625.9,3306.7 L1628.6,3308.0 L1631.3,3309.4 L1634.0,3310.8 L1636.6,3312.2 L1639.3,3313.6 L1641.9,3315.1 L1644.5,3316.6 L1647.1,3318.1 L1649.7,3319.6 L1652.3,3321.2 L1654.9,3322.7 L1657.5,3324.3 L1660.1,3325.8 L1662.7,3327.4 L1665.3,3329.0 L1667.9,3330.5 L1670.5,3332.1 L1673.1,3333.6 L1675.7,3335.1 L1678.3,3336.6 L1680.9,3338.1 L1683.6,3339.5 L1686.2,3341.0 L1688.8,3342.5 L1691.5,3343.9 L1694.1,3345.3 L1696.7,3346.8 L1699.4,3348.2 L1702.0,3349.6 L1704.7,3351.1 L1707.3,3352.5 L1710.0,3353.9 L1712.6,3355.3 L1715.3,3356.7 L1717.9,3358.2 L1720.5,3359.6 L1723.2,3361.0 L1725.8,3362.5 L1728.4,3363.9 L1731.1,3365.4 L1733.7,3366.8 L1736.3,3368.3 L1738.9,3369.8 L1741.5,3371.3 L1744.1,3372.8 L1746.7,3374.3 L1749.3,3375.9 L1751.9,3377.4 L1754.4,3379.0 L1757.0,3380.6 L1759.6,3382.2 L1762.1,3383.8 L1764.7,3385.4 L1767.2,3387.0 L1769.8,3388.6 L1772.4,3390.2 L1774.9,3391.8 L1777.5,3393.3 L1780.1,3394.8 L1782.7,3396.3 L1785.4,3397.8 L1788.0,3399.2 L1790.7,3400.6 L1793.4,3402.0 L1796.1,3403.3 L1798.8,3404.5 L1801.6,3405.7 L1804.3,3406.9 L1807.2,3407.9 L1810.0,3408.9" fill="none" stroke="#000" stroke-width="5" stroke-linejoin="round" stroke-dasharray="21 24" stroke-linecap="round"/></g>
</svg></body></html>
